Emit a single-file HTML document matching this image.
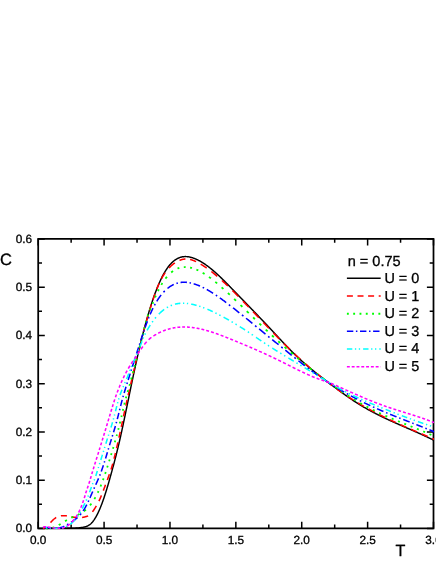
<!DOCTYPE html>
<html><head><meta charset="utf-8"><title>C vs T</title>
<style>html,body{margin:0;padding:0;background:#fff;}body{width:436px;height:564px;overflow:hidden;position:relative;font-family:"Liberation Sans",sans-serif;}</style></head>
<body>
<svg width="436" height="564" viewBox="0 0 436 564" style="position:absolute;left:0;top:0">
<rect width="436" height="564" fill="#fff"/>
<g stroke="#000" stroke-width="1.75" fill="none">
<path d="M38.2,238.9 H433.5 V528.4 H38.2 Z"/>
<path d="M38.20,528.4 v-6.6 M38.20,238.9 v6.6 M71.14,528.4 v-3.8 M71.14,238.9 v3.8 M104.08,528.4 v-6.6 M104.08,238.9 v6.6 M137.03,528.4 v-3.8 M137.03,238.9 v3.8 M169.97,528.4 v-6.6 M169.97,238.9 v6.6 M202.91,528.4 v-3.8 M202.91,238.9 v3.8 M235.85,528.4 v-6.6 M235.85,238.9 v6.6 M268.79,528.4 v-3.8 M268.79,238.9 v3.8 M301.73,528.4 v-6.6 M301.73,238.9 v6.6 M334.68,528.4 v-3.8 M334.68,238.9 v3.8 M367.62,528.4 v-6.6 M367.62,238.9 v6.6 M400.56,528.4 v-3.8 M400.56,238.9 v3.8 M433.50,528.4 v-6.6 M433.50,238.9 v6.6 M38.2,528.40 h6.6 M433.5,528.40 h-6.6 M38.2,504.27 h3.8 M433.5,504.27 h-3.8 M38.2,480.15 h6.6 M433.5,480.15 h-6.6 M38.2,456.02 h3.8 M433.5,456.02 h-3.8 M38.2,431.90 h6.6 M433.5,431.90 h-6.6 M38.2,407.77 h3.8 M433.5,407.77 h-3.8 M38.2,383.65 h6.6 M433.5,383.65 h-6.6 M38.2,359.52 h3.8 M433.5,359.52 h-3.8 M38.2,335.40 h6.6 M433.5,335.40 h-6.6 M38.2,311.27 h3.8 M433.5,311.27 h-3.8 M38.2,287.15 h6.6 M433.5,287.15 h-6.6 M38.2,263.02 h3.8 M433.5,263.02 h-3.8 M38.2,238.90 h6.6 M433.5,238.90 h-6.6" stroke-width="1.5"/>
</g>
<clipPath id="pc"><rect x="38" y="230" width="396.1" height="305"/></clipPath>
<g fill="none" stroke-linejoin="round" clip-path="url(#pc)">
<path d="M42.90,528.10 L43.30,528.10 L43.70,528.09 L44.10,528.08 L44.50,528.08 L44.90,528.07 L45.30,528.07 L45.70,528.06 L46.10,528.06 L46.50,528.06 L46.90,528.06 L47.30,528.06 L47.70,528.06 L48.10,528.07 L48.50,528.07 L48.90,528.07 L49.30,528.08 L49.70,528.08 L50.10,528.09 L50.50,528.09 L50.90,528.10 L51.30,528.11 L51.70,528.11 L52.10,528.12 L52.50,528.13 L52.90,528.14 L53.30,528.15 L53.70,528.15 L54.10,528.16 L54.50,528.17 L54.90,528.18 L55.30,528.19 L55.70,528.20 L56.10,528.21 L56.50,528.22 L56.90,528.23 L57.30,528.24 L57.70,528.25 L58.10,528.26 L58.50,528.27 L58.90,528.28 L59.30,528.29 L59.70,528.30 L60.10,528.30 L60.50,528.30 L60.90,528.30 L61.30,528.30 L61.70,528.30 L62.10,528.30 L62.50,528.30 L62.90,528.30 L63.30,528.30 L63.70,528.30 L64.10,528.30 L64.50,528.30 L64.90,528.30 L65.30,528.30 L65.70,528.30 L66.10,528.30 L66.50,528.30 L66.90,528.30 L67.30,528.30 L67.70,528.30 L68.10,528.30 L68.50,528.30 L68.90,528.30 L69.30,528.30 L69.70,528.30 L70.10,528.30 L70.50,528.30 L70.90,528.30 L71.30,528.30 L71.70,528.30 L72.10,528.28 L72.50,528.27 L72.90,528.25 L73.30,528.23 L73.70,528.21 L74.10,528.19 L74.50,528.17 L74.90,528.14 L75.30,528.12 L75.70,528.09 L76.10,528.06 L76.50,528.03 L76.90,528.00 L77.30,527.97 L77.70,527.93 L78.10,527.89 L78.50,527.86 L78.90,527.82 L79.30,527.77 L79.70,527.73 L80.10,527.68 L80.50,527.63 L80.90,527.58 L81.30,527.53 L81.70,527.48 L82.10,527.42 L82.50,527.36 L82.90,527.30 L83.30,527.23 L83.70,527.16 L84.10,527.08 L84.50,527.00 L84.90,526.90 L85.30,526.79 L85.70,526.68 L86.10,526.55 L86.50,526.41 L86.90,526.25 L87.30,526.08 L87.70,525.89 L88.10,525.69 L88.50,525.46 L88.90,525.22 L89.30,524.95 L89.70,524.67 L90.10,524.36 L90.50,524.03 L90.90,523.67 L91.30,523.28 L91.70,522.87 L92.10,522.43 L92.50,521.97 L92.90,521.48 L93.30,520.96 L93.70,520.42 L94.10,519.85 L94.50,519.25 L94.90,518.63 L95.30,517.98 L95.70,517.31 L96.10,516.61 L96.50,515.88 L96.90,515.13 L97.30,514.36 L97.70,513.56 L98.10,512.73 L98.50,511.88 L98.90,511.01 L99.30,510.11 L99.70,509.18 L100.10,508.23 L100.50,507.26 L100.90,506.26 L101.30,505.24 L101.70,504.20 L102.10,503.13 L102.50,502.04 L102.90,500.93 L103.30,499.80 L103.70,498.64 L104.10,497.47 L104.50,496.27 L104.90,495.05 L105.30,493.81 L105.70,492.54 L106.10,491.26 L106.50,489.96 L106.90,488.64 L107.30,487.31 L107.70,485.96 L108.10,484.59 L108.50,483.22 L108.90,481.83 L109.30,480.43 L109.70,479.02 L110.10,477.60 L110.50,476.17 L110.90,474.74 L111.30,473.29 L111.70,471.84 L112.10,470.38 L112.50,468.91 L112.90,467.43 L113.30,465.94 L113.70,464.44 L114.10,462.94 L114.50,461.42 L114.90,459.89 L115.30,458.35 L115.70,456.79 L116.10,455.22 L116.50,453.63 L116.90,452.03 L117.30,450.40 L117.70,448.76 L118.10,447.10 L118.50,445.42 L118.90,443.72 L119.30,442.01 L119.70,440.27 L120.10,438.51 L120.50,436.73 L120.90,434.94 L121.30,433.13 L121.70,431.30 L122.10,429.46 L122.50,427.61 L122.90,425.74 L123.30,423.86 L123.70,421.97 L124.10,420.07 L124.50,418.17 L124.90,416.25 L125.30,414.33 L125.70,412.40 L126.10,410.46 L126.50,408.52 L126.90,406.58 L127.30,404.63 L127.70,402.68 L128.10,400.73 L128.50,398.78 L128.90,396.83 L129.30,394.89 L129.70,392.94 L130.10,391.00 L130.50,389.07 L130.90,387.14 L131.30,385.21 L131.70,383.30 L132.10,381.39 L132.50,379.49 L132.90,377.60 L133.30,375.72 L133.70,373.84 L134.10,371.98 L134.50,370.13 L134.90,368.29 L135.30,366.46 L135.70,364.63 L136.10,362.82 L136.50,361.03 L136.90,359.24 L137.30,357.46 L137.70,355.70 L138.10,353.95 L138.50,352.21 L138.90,350.49 L139.30,348.77 L139.70,347.07 L140.10,345.39 L140.50,343.72 L140.90,342.06 L141.30,340.41 L141.70,338.79 L142.10,337.17 L142.50,335.57 L142.90,333.99 L143.30,332.42 L143.70,330.86 L144.10,329.33 L144.50,327.80 L144.90,326.30 L145.30,324.81 L145.70,323.33 L146.10,321.87 L146.50,320.43 L146.90,319.00 L147.30,317.59 L147.70,316.20 L148.10,314.82 L148.50,313.46 L148.90,312.11 L149.30,310.78 L149.70,309.47 L150.10,308.17 L150.50,306.89 L150.90,305.62 L151.30,304.37 L151.70,303.14 L152.10,301.93 L152.50,300.73 L152.90,299.54 L153.30,298.38 L153.70,297.23 L154.10,296.09 L154.50,294.97 L154.90,293.87 L155.30,292.79 L155.70,291.72 L156.10,290.67 L156.50,289.64 L156.90,288.62 L157.30,287.62 L157.70,286.64 L158.10,285.67 L158.50,284.72 L158.90,283.79 L159.30,282.87 L159.70,281.97 L160.10,281.09 L160.50,280.23 L160.90,279.38 L161.30,278.55 L161.70,277.73 L162.10,276.94 L162.50,276.16 L162.90,275.39 L163.30,274.65 L163.70,273.92 L164.10,273.21 L164.50,272.52 L164.90,271.84 L165.30,271.18 L165.70,270.54 L166.10,269.92 L166.50,269.31 L166.90,268.72 L167.30,268.14 L167.70,267.59 L168.10,267.04 L168.50,266.52 L168.90,266.01 L169.30,265.51 L169.70,265.03 L170.10,264.57 L170.50,264.12 L170.90,263.68 L171.30,263.26 L171.70,262.86 L172.10,262.47 L172.50,262.09 L172.90,261.73 L173.30,261.38 L173.70,261.05 L174.10,260.73 L174.50,260.42 L174.90,260.12 L175.30,259.84 L175.70,259.57 L176.10,259.32 L176.50,259.08 L176.90,258.85 L177.30,258.63 L177.70,258.42 L178.10,258.23 L178.50,258.04 L178.90,257.87 L179.30,257.71 L179.70,257.57 L180.10,257.43 L180.50,257.30 L180.90,257.19 L181.30,257.08 L181.70,256.99 L182.10,256.91 L182.50,256.83 L182.90,256.77 L183.30,256.71 L183.70,256.67 L184.10,256.64 L184.50,256.61 L184.90,256.59 L185.30,256.59 L185.70,256.59 L186.10,256.60 L186.50,256.62 L186.90,256.64 L187.30,256.68 L187.70,256.72 L188.10,256.77 L188.50,256.83 L188.90,256.90 L189.30,256.97 L189.70,257.05 L190.10,257.14 L190.50,257.23 L190.90,257.33 L191.30,257.44 L191.70,257.55 L192.10,257.67 L192.50,257.80 L192.90,257.93 L193.30,258.07 L193.70,258.21 L194.10,258.36 L194.50,258.51 L194.90,258.67 L195.30,258.83 L195.70,259.00 L196.10,259.17 L196.50,259.35 L196.90,259.54 L197.30,259.73 L197.70,259.92 L198.10,260.12 L198.50,260.32 L198.90,260.53 L199.30,260.74 L199.70,260.96 L200.10,261.18 L200.50,261.40 L200.90,261.63 L201.30,261.87 L201.70,262.11 L202.10,262.35 L202.50,262.60 L202.90,262.85 L203.30,263.10 L203.70,263.36 L204.10,263.62 L204.50,263.89 L204.90,264.16 L205.30,264.44 L205.70,264.72 L206.10,265.00 L206.50,265.29 L206.90,265.58 L207.30,265.87 L207.70,266.17 L208.10,266.47 L208.50,266.77 L208.90,267.08 L209.30,267.39 L209.70,267.70 L210.10,268.02 L210.50,268.34 L210.90,268.66 L211.30,268.99 L211.70,269.32 L212.10,269.65 L212.50,269.99 L212.90,270.32 L213.30,270.67 L213.70,271.01 L214.10,271.35 L214.50,271.70 L214.90,272.06 L215.30,272.41 L215.70,272.77 L216.10,273.12 L216.50,273.49 L216.90,273.85 L217.30,274.22 L217.70,274.58 L218.10,274.95 L218.50,275.33 L218.90,275.70 L219.30,276.08 L219.70,276.46 L220.10,276.84 L220.50,277.22 L220.90,277.60 L221.30,277.99 L221.70,278.38 L222.10,278.76 L222.50,279.16 L222.90,279.55 L223.30,279.94 L223.70,280.34 L224.10,280.73 L224.50,281.13 L224.90,281.53 L225.30,281.93 L225.70,282.33 L226.10,282.74 L226.50,283.14 L226.90,283.54 L227.30,283.95 L227.70,284.36 L228.10,284.76 L228.50,285.17 L228.90,285.58 L229.30,285.99 L229.70,286.40 L230.10,286.81 L230.50,287.22 L230.90,287.64 L231.30,288.05 L231.70,288.46 L232.10,288.88 L232.50,289.29 L232.90,289.70 L233.30,290.12 L233.70,290.53 L234.10,290.95 L234.50,291.36 L234.90,291.77 L235.30,292.19 L235.70,292.60 L236.10,293.02 L236.50,293.43 L236.90,293.84 L237.30,294.26 L237.70,294.67 L238.10,295.08 L238.50,295.50 L238.90,295.91 L239.30,296.32 L239.70,296.74 L240.10,297.15 L240.50,297.56 L240.90,297.98 L241.30,298.39 L241.70,298.80 L242.10,299.22 L242.50,299.63 L242.90,300.04 L243.30,300.45 L243.70,300.87 L244.10,301.28 L244.50,301.69 L244.90,302.11 L245.30,302.52 L245.70,302.93 L246.10,303.35 L246.50,303.76 L246.90,304.17 L247.30,304.59 L247.70,305.00 L248.10,305.41 L248.50,305.83 L248.90,306.24 L249.30,306.65 L249.70,307.07 L250.10,307.48 L250.50,307.89 L250.90,308.31 L251.30,308.72 L251.70,309.14 L252.10,309.55 L252.50,309.97 L252.90,310.38 L253.30,310.80 L253.70,311.21 L254.10,311.63 L254.50,312.04 L254.90,312.46 L255.30,312.87 L255.70,313.29 L256.10,313.71 L256.50,314.12 L256.90,314.54 L257.30,314.96 L257.70,315.37 L258.10,315.79 L258.50,316.21 L258.90,316.63 L259.30,317.05 L259.70,317.46 L260.10,317.88 L260.50,318.30 L260.90,318.72 L261.30,319.14 L261.70,319.56 L262.10,319.98 L262.50,320.40 L262.90,320.82 L263.30,321.24 L263.70,321.66 L264.10,322.09 L264.50,322.51 L264.90,322.93 L265.30,323.35 L265.70,323.78 L266.10,324.20 L266.50,324.62 L266.90,325.05 L267.30,325.47 L267.70,325.90 L268.10,326.32 L268.50,326.75 L268.90,327.18 L269.30,327.60 L269.70,328.03 L270.10,328.46 L270.50,328.89 L270.90,329.31 L271.30,329.74 L271.70,330.17 L272.10,330.60 L272.50,331.03 L272.90,331.46 L273.30,331.89 L273.70,332.32 L274.10,332.76 L274.50,333.19 L274.90,333.62 L275.30,334.05 L275.70,334.48 L276.10,334.92 L276.50,335.35 L276.90,335.78 L277.30,336.21 L277.70,336.64 L278.10,337.07 L278.50,337.51 L278.90,337.94 L279.30,338.37 L279.70,338.80 L280.10,339.23 L280.50,339.66 L280.90,340.09 L281.30,340.52 L281.70,340.94 L282.10,341.37 L282.50,341.80 L282.90,342.23 L283.30,342.65 L283.70,343.08 L284.10,343.50 L284.50,343.92 L284.90,344.35 L285.30,344.77 L285.70,345.19 L286.10,345.61 L286.50,346.03 L286.90,346.44 L287.30,346.86 L287.70,347.28 L288.10,347.69 L288.50,348.10 L288.90,348.52 L289.30,348.93 L289.70,349.33 L290.10,349.74 L290.50,350.15 L290.90,350.55 L291.30,350.96 L291.70,351.36 L292.10,351.76 L292.50,352.16 L292.90,352.55 L293.30,352.95 L293.70,353.34 L294.10,353.73 L294.50,354.12 L294.90,354.51 L295.30,354.90 L295.70,355.28 L296.10,355.67 L296.50,356.05 L296.90,356.43 L297.30,356.80 L297.70,357.18 L298.10,357.56 L298.50,357.93 L298.90,358.30 L299.30,358.67 L299.70,359.04 L300.10,359.40 L300.50,359.77 L300.90,360.13 L301.30,360.49 L301.70,360.86 L302.10,361.21 L302.50,361.57 L302.90,361.93 L303.30,362.28 L303.70,362.64 L304.10,362.99 L304.50,363.34 L304.90,363.69 L305.30,364.04 L305.70,364.39 L306.10,364.73 L306.50,365.08 L306.90,365.42 L307.30,365.76 L307.70,366.10 L308.10,366.44 L308.50,366.78 L308.90,367.12 L309.30,367.45 L309.70,367.79 L310.10,368.12 L310.50,368.46 L310.90,368.79 L311.30,369.12 L311.70,369.45 L312.10,369.78 L312.50,370.11 L312.90,370.43 L313.30,370.76 L313.70,371.08 L314.10,371.41 L314.50,371.73 L314.90,372.05 L315.30,372.38 L315.70,372.70 L316.10,373.02 L316.50,373.34 L316.90,373.65 L317.30,373.97 L317.70,374.29 L318.10,374.61 L318.50,374.92 L318.90,375.24 L319.30,375.55 L319.70,375.86 L320.10,376.18 L320.50,376.49 L320.90,376.80 L321.30,377.11 L321.70,377.42 L322.10,377.73 L322.50,378.04 L322.90,378.35 L323.30,378.66 L323.70,378.96 L324.10,379.27 L324.50,379.58 L324.90,379.88 L325.30,380.19 L325.70,380.50 L326.10,380.80 L326.50,381.11 L326.90,381.41 L327.30,381.72 L327.70,382.02 L328.10,382.32 L328.50,382.63 L328.90,382.93 L329.30,383.23 L329.70,383.54 L330.10,383.84 L330.50,384.14 L330.90,384.44 L331.30,384.74 L331.70,385.05 L332.10,385.35 L332.50,385.65 L332.90,385.95 L333.30,386.25 L333.70,386.55 L334.10,386.85 L334.50,387.15 L334.90,387.45 L335.30,387.75 L335.70,388.05 L336.10,388.35 L336.50,388.64 L336.90,388.94 L337.30,389.24 L337.70,389.53 L338.10,389.83 L338.50,390.13 L338.90,390.42 L339.30,390.72 L339.70,391.01 L340.10,391.30 L340.50,391.59 L340.90,391.89 L341.30,392.18 L341.70,392.47 L342.10,392.76 L342.50,393.05 L342.90,393.34 L343.30,393.63 L343.70,393.91 L344.10,394.20 L344.50,394.49 L344.90,394.77 L345.30,395.06 L345.70,395.34 L346.10,395.62 L346.50,395.90 L346.90,396.19 L347.30,396.47 L347.70,396.75 L348.10,397.02 L348.50,397.30 L348.90,397.58 L349.30,397.85 L349.70,398.13 L350.10,398.40 L350.50,398.68 L350.90,398.95 L351.30,399.22 L351.70,399.49 L352.10,399.76 L352.50,400.03 L352.90,400.29 L353.30,400.56 L353.70,400.82 L354.10,401.09 L354.50,401.35 L354.90,401.61 L355.30,401.87 L355.70,402.13 L356.10,402.39 L356.50,402.64 L356.90,402.90 L357.30,403.15 L357.70,403.40 L358.10,403.65 L358.50,403.90 L358.90,404.15 L359.30,404.40 L359.70,404.65 L360.10,404.89 L360.50,405.14 L360.90,405.38 L361.30,405.62 L361.70,405.86 L362.10,406.10 L362.50,406.34 L362.90,406.57 L363.30,406.81 L363.70,407.04 L364.10,407.28 L364.50,407.51 L364.90,407.74 L365.30,407.97 L365.70,408.20 L366.10,408.43 L366.50,408.65 L366.90,408.88 L367.30,409.10 L367.70,409.33 L368.10,409.55 L368.50,409.77 L368.90,409.99 L369.30,410.21 L369.70,410.43 L370.10,410.65 L370.50,410.87 L370.90,411.08 L371.30,411.30 L371.70,411.51 L372.10,411.72 L372.50,411.93 L372.90,412.15 L373.30,412.36 L373.70,412.57 L374.10,412.77 L374.50,412.98 L374.90,413.19 L375.30,413.40 L375.70,413.60 L376.10,413.81 L376.50,414.01 L376.90,414.21 L377.30,414.41 L377.70,414.62 L378.10,414.82 L378.50,415.02 L378.90,415.21 L379.30,415.41 L379.70,415.61 L380.10,415.81 L380.50,416.00 L380.90,416.20 L381.30,416.39 L381.70,416.59 L382.10,416.78 L382.50,416.98 L382.90,417.17 L383.30,417.36 L383.70,417.55 L384.10,417.74 L384.50,417.93 L384.90,418.12 L385.30,418.31 L385.70,418.50 L386.10,418.69 L386.50,418.87 L386.90,419.06 L387.30,419.25 L387.70,419.43 L388.10,419.62 L388.50,419.80 L388.90,419.99 L389.30,420.17 L389.70,420.35 L390.10,420.54 L390.50,420.72 L390.90,420.90 L391.30,421.08 L391.70,421.26 L392.10,421.44 L392.50,421.62 L392.90,421.80 L393.30,421.98 L393.70,422.16 L394.10,422.34 L394.50,422.52 L394.90,422.70 L395.30,422.88 L395.70,423.06 L396.10,423.23 L396.50,423.41 L396.90,423.59 L397.30,423.76 L397.70,423.94 L398.10,424.12 L398.50,424.29 L398.90,424.47 L399.30,424.65 L399.70,424.82 L400.10,425.00 L400.50,425.17 L400.90,425.35 L401.30,425.52 L401.70,425.70 L402.10,425.87 L402.50,426.05 L402.90,426.22 L403.30,426.39 L403.70,426.57 L404.10,426.74 L404.50,426.92 L404.90,427.09 L405.30,427.27 L405.70,427.44 L406.10,427.61 L406.50,427.79 L406.90,427.96 L407.30,428.14 L407.70,428.31 L408.10,428.48 L408.50,428.66 L408.90,428.83 L409.30,429.01 L409.70,429.18 L410.10,429.36 L410.50,429.53 L410.90,429.71 L411.30,429.88 L411.70,430.06 L412.10,430.23 L412.50,430.41 L412.90,430.58 L413.30,430.76 L413.70,430.93 L414.10,431.11 L414.50,431.29 L414.90,431.46 L415.30,431.64 L415.70,431.82 L416.10,431.99 L416.50,432.17 L416.90,432.35 L417.30,432.53 L417.70,432.70 L418.10,432.88 L418.50,433.06 L418.90,433.24 L419.30,433.42 L419.70,433.60 L420.10,433.78 L420.50,433.96 L420.90,434.14 L421.30,434.32 L421.70,434.51 L422.10,434.69 L422.50,434.87 L422.90,435.05 L423.30,435.24 L423.70,435.42 L424.10,435.61 L424.50,435.79 L424.90,435.98 L425.30,436.16 L425.70,436.35 L426.10,436.53 L426.50,436.72 L426.90,436.91 L427.30,437.10 L427.70,437.29 L428.10,437.48 L428.50,437.67 L428.90,437.86 L429.30,438.05 L429.70,438.24 L430.10,438.43 L430.50,438.63 L430.90,438.82 L431.30,439.02 L431.70,439.21 L432.10,439.41 L432.50,439.60 L432.90,439.80 L433.30,440.00 L433.70,440.20 L434.10,440.40 L434.50,440.60" stroke="#000000" stroke-width="1.45"/>
<path d="M42.90,528.20 L43.20,528.20 L43.50,528.17 L43.80,528.13 L44.10,528.07 L44.40,527.98 L44.70,527.86 L45.00,527.73 L45.30,527.57 L45.60,527.39 L45.90,527.19 L46.10,527.05 M50.50,522.64 L50.80,522.31 L51.10,521.97 L51.40,521.64 L51.70,521.31 L52.00,520.99 L52.30,520.68 L52.60,520.37 L52.90,520.07 L53.20,519.79 L53.50,519.51 L53.80,519.25 L54.10,519.00 L54.40,518.76 L54.70,518.53 L55.00,518.31 L55.30,518.10 L55.60,517.90 L55.90,517.71 L56.20,517.53 L56.25,517.50 M60.90,515.85 L61.20,515.80 L61.50,515.76 L61.80,515.73 L62.10,515.70 L62.40,515.68 L62.70,515.67 L63.00,515.66 L63.30,515.65 L63.60,515.65 L63.90,515.66 L64.20,515.67 L64.50,515.68 L64.80,515.70 L65.10,515.72 L65.40,515.74 L65.70,515.77 L66.00,515.81 L66.30,515.84 L66.60,515.88 L66.85,515.92 M71.50,516.78 L71.80,516.84 L72.10,516.90 L72.40,516.96 L72.70,517.02 L73.00,517.08 L73.30,517.13 L73.60,517.19 L73.90,517.24 L74.20,517.29 L74.50,517.34 L74.80,517.39 L75.10,517.43 L75.40,517.47 L75.70,517.51 L76.00,517.55 L76.30,517.58 L76.60,517.61 L76.90,517.63 L77.20,517.65 L77.45,517.67 M82.10,517.45 L82.40,517.40 L82.70,517.36 L83.00,517.30 L83.30,517.25 L83.60,517.19 L83.90,517.13 L84.20,517.06 L84.50,516.99 L84.80,516.92 L85.10,516.85 L85.40,516.77 L85.70,516.69 L86.00,516.60 L86.30,516.51 L86.60,516.42 L86.90,516.32 L87.20,516.20 L87.50,516.08 L87.80,515.95 L88.05,515.83 M92.45,511.85 L92.75,511.45 L93.05,511.04 L93.35,510.62 L93.65,510.19 L93.95,509.75 L94.25,509.30 L94.55,508.84 L94.85,508.38 L95.15,507.91 L95.45,507.43 L95.75,506.95 L96.05,506.46 L96.35,505.96 M98.90,501.20 L99.20,500.56 L99.50,499.91 L99.80,499.25 L100.10,498.57 L100.40,497.87 L100.70,497.17 L101.00,496.45 L101.30,495.73 L101.45,495.36 M103.30,490.65 L103.60,489.86 L103.90,489.07 L104.20,488.27 L104.50,487.47 L104.80,486.67 L105.10,485.87 L105.40,485.07 L105.50,484.80 M107.30,479.98 L107.60,479.17 L107.90,478.37 L108.20,477.56 L108.50,476.75 L108.80,475.94 L109.10,475.11 L109.40,474.28 L109.45,474.14 M111.05,469.41 L111.35,468.45 L111.65,467.47 L111.95,466.46 L112.25,465.43 L112.55,464.37 L112.75,463.65 M114.05,458.72 L114.35,457.52 L114.65,456.30 L114.95,455.07 L115.25,453.82 L115.45,452.97 M116.55,448.26 L116.85,446.95 L117.15,445.64 L117.45,444.32 L117.75,443.00 L117.90,442.34 M118.95,437.68 L119.25,436.34 L119.55,434.99 L119.85,433.62 L120.15,432.25 L120.25,431.79 M121.30,426.89 L121.60,425.47 L121.90,424.06 L122.20,422.63 L122.50,421.21 M123.50,416.46 L123.80,415.03 L124.10,413.61 L124.40,412.19 L124.70,410.78 L124.75,410.55 M125.80,405.67 L126.10,404.29 L126.40,402.93 L126.70,401.57 L127.00,400.23 L127.05,400.01 M128.15,395.21 L128.45,393.92 L128.75,392.64 L129.05,391.37 L129.35,390.09 L129.50,389.46 M130.65,384.58 L130.95,383.29 L131.25,382.00 L131.55,380.71 L131.85,379.40 L132.00,378.75 M133.10,373.92 L133.40,372.59 L133.70,371.27 L134.00,369.94 L134.30,368.61 L134.40,368.17 M135.50,363.33 L135.80,362.02 L136.10,360.71 L136.40,359.41 L136.70,358.12 L136.80,357.69 M137.95,352.83 L138.25,351.59 L138.55,350.36 L138.85,349.14 L139.15,347.94 L139.40,346.95 M140.65,342.12 L140.95,340.99 L141.25,339.87 L141.55,338.75 L141.85,337.64 L142.15,336.53 L142.20,336.35 M143.50,331.63 L143.80,330.55 L144.10,329.47 L144.40,328.40 L144.70,327.33 L145.00,326.26 L145.15,325.73 M146.50,320.98 L146.80,319.93 L147.10,318.89 L147.40,317.86 L147.70,316.82 L148.00,315.80 L148.20,315.12 M149.60,310.42 L149.90,309.43 L150.20,308.45 L150.50,307.48 L150.80,306.51 L151.10,305.55 L151.40,304.60 M152.95,299.81 L153.25,298.91 L153.55,298.02 L153.85,297.14 L154.15,296.27 L154.45,295.42 L154.75,294.57 L154.95,294.01 M156.75,289.19 L157.05,288.43 L157.35,287.68 L157.65,286.94 L157.95,286.22 L158.25,285.51 L158.55,284.81 L158.85,284.13 L159.15,283.46 L159.20,283.35 M161.55,278.59 L161.85,278.04 L162.15,277.50 L162.45,276.98 L162.75,276.46 L163.05,275.96 L163.35,275.46 L163.65,274.98 L163.95,274.51 L164.25,274.05 L164.55,273.60 L164.85,273.16 L165.15,272.73 M168.95,268.05 L169.25,267.73 L169.55,267.42 L169.85,267.12 L170.15,266.83 L170.45,266.54 L170.75,266.25 L171.05,265.98 L171.35,265.70 L171.65,265.44 L171.95,265.18 L172.25,264.92 L172.55,264.67 L172.85,264.43 L173.15,264.19 L173.45,263.95 L173.75,263.72 L174.05,263.50 L174.35,263.28 L174.65,263.07 L174.85,262.93 M179.50,260.38 L179.80,260.26 L180.10,260.14 L180.40,260.04 L180.70,259.93 L181.00,259.83 L181.30,259.74 L181.60,259.65 L181.90,259.57 L182.20,259.50 L182.50,259.43 L182.80,259.36 L183.10,259.30 L183.40,259.25 L183.70,259.20 L184.00,259.16 L184.30,259.12 L184.60,259.09 L184.90,259.06 L185.20,259.04 L185.45,259.03 M190.10,259.47 L190.40,259.54 L190.70,259.61 L191.00,259.69 L191.30,259.78 L191.60,259.87 L191.90,259.96 L192.20,260.05 L192.50,260.15 L192.80,260.26 L193.10,260.37 L193.40,260.48 L193.70,260.60 L194.00,260.72 L194.30,260.84 L194.60,260.97 L194.90,261.10 L195.20,261.23 L195.50,261.37 L195.80,261.51 L196.05,261.63 M200.70,264.17 L201.00,264.35 L201.30,264.53 L201.60,264.71 L201.90,264.90 L202.20,265.09 L202.50,265.28 L202.80,265.47 L203.10,265.66 L203.40,265.85 L203.70,266.05 L204.00,266.25 L204.30,266.45 L204.60,266.65 L204.90,266.85 L205.20,267.05 L205.50,267.26 L205.80,267.46 L206.10,267.67 L206.40,267.88 L206.65,268.06 M211.30,271.51 L211.60,271.74 L211.90,271.97 L212.20,272.21 L212.50,272.45 L212.80,272.69 L213.10,272.93 L213.40,273.17 L213.70,273.41 L214.00,273.65 L214.30,273.90 L214.60,274.14 L214.90,274.39 L215.20,274.64 L215.50,274.89 L215.80,275.14 L216.10,275.39 L216.40,275.65 L216.70,275.90 L217.00,276.15 L217.25,276.37 M221.90,280.47 L222.20,280.74 L222.50,281.01 L222.80,281.29 L223.10,281.56 L223.40,281.84 L223.70,282.12 L224.00,282.39 L224.30,282.67 L224.60,282.95 L224.90,283.23 L225.20,283.51 L225.50,283.79 L225.80,284.08 L226.10,284.36 L226.40,284.64 L226.70,284.93 L227.00,285.21 L227.30,285.50 L227.60,285.79 L227.85,286.03 M232.50,290.57 L232.80,290.87 L233.10,291.16 L233.40,291.46 L233.70,291.76 L234.00,292.06 L234.30,292.36 L234.60,292.66 L234.90,292.96 L235.20,293.27 L235.50,293.57 L235.80,293.87 L236.10,294.17 L236.40,294.48 L236.70,294.78 L237.00,295.08 L237.30,295.39 L237.60,295.69 L237.90,296.00 L238.20,296.30 L238.40,296.51 M242.95,301.17 L243.25,301.48 L243.55,301.79 L243.85,302.10 L244.15,302.41 L244.45,302.72 L244.75,303.03 L245.05,303.34 L245.35,303.66 L245.65,303.97 L245.95,304.28 L246.25,304.59 L246.55,304.90 L246.85,305.21 L247.15,305.52 L247.45,305.84 L247.75,306.15 L248.05,306.46 L248.35,306.77 L248.65,307.09 L248.70,307.14 M253.15,311.79 L253.45,312.11 L253.75,312.42 L254.05,312.73 L254.35,313.05 L254.65,313.36 L254.95,313.68 L255.25,313.99 L255.55,314.31 L255.85,314.62 L256.15,314.94 L256.45,315.25 L256.75,315.57 L257.05,315.88 L257.35,316.20 L257.65,316.51 L257.95,316.83 L258.25,317.14 L258.55,317.46 L258.80,317.72 M263.25,322.38 L263.55,322.70 L263.85,323.01 L264.15,323.33 L264.45,323.64 L264.75,323.95 L265.05,324.27 L265.35,324.58 L265.65,324.89 L265.95,325.21 L266.25,325.52 L266.55,325.83 L266.85,326.15 L267.15,326.46 L267.45,326.77 L267.75,327.09 L268.05,327.40 L268.35,327.71 L268.65,328.02 L268.95,328.34 M273.45,333.00 L273.75,333.31 L274.05,333.61 L274.35,333.92 L274.65,334.23 L274.95,334.54 L275.25,334.85 L275.55,335.16 L275.85,335.46 L276.15,335.77 L276.45,336.08 L276.75,336.38 L277.05,336.69 L277.35,337.00 L277.65,337.30 L277.95,337.61 L278.25,337.91 L278.55,338.22 L278.85,338.52 L279.15,338.83 L279.25,338.93 M283.85,343.56 L284.15,343.85 L284.45,344.15 L284.75,344.45 L285.05,344.75 L285.35,345.05 L285.65,345.34 L285.95,345.64 L286.25,345.94 L286.55,346.23 L286.85,346.53 L287.15,346.82 L287.45,347.12 L287.75,347.41 L288.05,347.71 L288.35,348.00 L288.65,348.29 L288.95,348.59 L289.25,348.88 L289.55,349.17 L289.80,349.41 M294.45,353.87 L294.75,354.15 L295.05,354.43 L295.35,354.72 L295.65,355.00 L295.95,355.28 L296.25,355.56 L296.55,355.84 L296.85,356.12 L297.15,356.40 L297.45,356.68 L297.75,356.96 L298.05,357.23 L298.35,357.51 L298.65,357.79 L298.95,358.06 L299.25,358.34 L299.55,358.62 L299.85,358.89 L300.15,359.17 L300.40,359.39 M305.05,363.57 L305.35,363.84 L305.65,364.11 L305.95,364.37 L306.25,364.63 L306.55,364.90 L306.85,365.16 L307.15,365.42 L307.45,365.69 L307.75,365.95 L308.05,366.21 L308.35,366.47 L308.65,366.73 L308.95,366.99 L309.25,367.25 L309.55,367.51 L309.85,367.77 L310.15,368.02 L310.45,368.28 L310.75,368.54 L311.00,368.75 M315.65,372.66 L315.95,372.91 L316.25,373.15 L316.55,373.40 L316.85,373.65 L317.15,373.89 L317.45,374.14 L317.75,374.39 L318.05,374.63 L318.35,374.87 L318.65,375.12 L318.95,375.36 L319.25,375.60 L319.55,375.85 L319.85,376.09 L320.15,376.33 L320.45,376.57 L320.75,376.81 L321.05,377.05 L321.35,377.29 L321.60,377.49 M326.25,381.13 L326.55,381.36 L326.85,381.59 L327.15,381.82 L327.45,382.05 L327.75,382.28 L328.05,382.50 L328.35,382.73 L328.65,382.96 L328.95,383.19 L329.25,383.41 L329.55,383.64 L329.85,383.86 L330.15,384.09 L330.45,384.31 L330.75,384.54 L331.05,384.76 L331.35,384.98 L331.65,385.20 L331.95,385.43 L332.20,385.61 M336.85,388.98 L337.15,389.20 L337.45,389.41 L337.75,389.62 L338.05,389.83 L338.35,390.05 L338.65,390.26 L338.95,390.47 L339.25,390.68 L339.55,390.89 L339.85,391.10 L340.15,391.31 L340.45,391.51 L340.75,391.72 L341.05,391.93 L341.35,392.14 L341.65,392.34 L341.95,392.55 L342.25,392.75 L342.55,392.96 L342.80,393.13 M347.45,396.24 L347.75,396.43 L348.05,396.63 L348.35,396.82 L348.65,397.02 L348.95,397.21 L349.25,397.41 L349.55,397.60 L349.85,397.79 L350.15,397.99 L350.45,398.18 L350.75,398.37 L351.05,398.56 L351.35,398.75 L351.65,398.94 L351.95,399.13 L352.25,399.32 L352.55,399.51 L352.85,399.70 L353.15,399.89 L353.40,400.04 M358.05,402.89 L358.35,403.07 L358.65,403.25 L358.95,403.43 L359.25,403.61 L359.55,403.78 L359.85,403.96 L360.15,404.14 L360.45,404.31 L360.75,404.49 L361.05,404.67 L361.35,404.84 L361.65,405.02 L361.95,405.19 L362.25,405.36 L362.55,405.54 L362.85,405.71 L363.15,405.88 L363.45,406.05 L363.75,406.23 L364.00,406.37 M368.65,408.97 L368.95,409.13 L369.25,409.30 L369.55,409.46 L369.85,409.63 L370.15,409.79 L370.45,409.95 L370.75,410.11 L371.05,410.27 L371.35,410.44 L371.65,410.60 L371.95,410.76 L372.25,410.92 L372.55,411.08 L372.85,411.24 L373.15,411.40 L373.45,411.56 L373.75,411.71 L374.05,411.87 L374.35,412.03 L374.60,412.16 M379.25,414.56 L379.55,414.71 L379.85,414.86 L380.15,415.01 L380.45,415.16 L380.75,415.31 L381.05,415.46 L381.35,415.61 L381.65,415.76 L381.95,415.91 L382.25,416.06 L382.55,416.21 L382.85,416.36 L383.15,416.51 L383.45,416.65 L383.75,416.80 L384.05,416.95 L384.35,417.10 L384.65,417.24 L384.95,417.39 L385.20,417.51 M389.85,419.75 L390.15,419.89 L390.45,420.03 L390.75,420.17 L391.05,420.31 L391.35,420.45 L391.65,420.59 L391.95,420.73 L392.25,420.88 L392.55,421.02 L392.85,421.16 L393.15,421.30 L393.45,421.43 L393.75,421.57 L394.05,421.71 L394.35,421.85 L394.65,421.99 L394.95,422.13 L395.25,422.27 L395.55,422.41 L395.80,422.52 M400.45,424.63 L400.75,424.77 L401.05,424.90 L401.35,425.04 L401.65,425.17 L401.95,425.31 L402.25,425.44 L402.55,425.57 L402.85,425.71 L403.15,425.84 L403.45,425.97 L403.75,426.11 L404.05,426.24 L404.35,426.37 L404.65,426.51 L404.95,426.64 L405.25,426.77 L405.55,426.90 L405.85,427.04 L406.15,427.17 L406.40,427.28 M411.05,429.31 L411.35,429.44 L411.65,429.57 L411.95,429.70 L412.25,429.83 L412.55,429.96 L412.85,430.09 L413.15,430.22 L413.45,430.35 L413.75,430.48 L414.05,430.61 L414.35,430.74 L414.65,430.87 L414.95,431.00 L415.25,431.13 L415.55,431.26 L415.85,431.39 L416.15,431.52 L416.45,431.65 L416.75,431.78 L417.00,431.89 M421.65,433.88 L421.95,434.01 L422.25,434.14 L422.55,434.27 L422.85,434.40 L423.15,434.53 L423.45,434.66 L423.75,434.78 L424.05,434.91 L424.35,435.04 L424.65,435.17 L424.95,435.30 L425.25,435.43 L425.55,435.56 L425.85,435.68 L426.15,435.81 L426.45,435.94 L426.75,436.07 L427.05,436.20 L427.35,436.33 L427.60,436.44 M432.25,438.44 L432.55,438.57 L432.85,438.70 L433.15,438.83 L433.45,438.96 L433.75,439.09 L434.05,439.22 L434.35,439.35 L434.50,439.41" stroke="#ff0000" stroke-width="1.55"/>
<path d="M46.15,528.30 L46.45,528.30 L46.75,528.30 L47.05,528.30 L47.35,528.30 L47.65,528.30 L47.95,528.30 L48.00,528.30 M52.45,527.78 L52.75,527.69 L53.05,527.60 L53.35,527.50 L53.65,527.40 L53.95,527.29 L54.25,527.19 L54.30,527.17 M58.75,525.06 L59.05,524.89 L59.35,524.72 L59.65,524.54 L59.95,524.37 L60.25,524.19 L60.55,524.00 L60.60,523.97 M65.05,521.18 L65.35,520.99 L65.65,520.81 L65.95,520.63 L66.25,520.44 L66.55,520.26 L66.85,520.08 L66.90,520.05 M71.35,517.72 L71.65,517.58 L71.95,517.44 L72.25,517.31 L72.55,517.17 L72.85,517.04 L73.15,516.90 L73.20,516.88 M77.65,514.89 L77.95,514.74 L78.25,514.60 L78.55,514.45 L78.85,514.30 L79.15,514.15 L79.45,513.99 L79.50,513.96 M83.95,511.20 L84.25,510.98 L84.55,510.75 L84.85,510.51 L85.15,510.27 L85.45,510.02 L85.75,509.77 L85.80,509.72 M90.00,505.39 L90.30,505.02 L90.60,504.64 L90.90,504.25 L91.20,503.86 L91.40,503.59 M94.35,499.13 L94.65,498.63 L94.95,498.11 L95.25,497.58 L95.40,497.32 M97.75,492.76 L98.05,492.13 L98.35,491.49 L98.55,491.06 M100.50,486.53 L100.80,485.79 L101.10,485.04 L101.25,484.66 M102.95,480.16 L103.25,479.34 L103.55,478.50 L103.60,478.36 M105.15,473.86 L105.45,472.96 L105.75,472.05 M107.20,467.55 L107.50,466.60 L107.75,465.80 M109.15,461.28 L109.45,460.31 L109.70,459.49 M111.05,455.04 L111.35,454.05 L111.60,453.21 M112.95,448.69 L113.25,447.67 L113.45,446.99 M114.80,442.34 L115.10,441.28 L115.30,440.58 M116.55,436.08 L116.85,434.98 L117.00,434.42 M118.25,429.67 L118.55,428.50 L118.65,428.11 M119.80,423.50 L120.10,422.27 L120.25,421.66 M121.35,417.04 L121.65,415.75 L121.70,415.54 M122.80,410.79 L123.10,409.49 L123.20,409.07 M124.25,404.63 L124.55,403.40 L124.70,402.79 M125.85,398.32 L126.15,397.20 L126.35,396.47 M127.60,392.01 L127.90,390.96 L128.10,390.26 M129.40,385.74 L129.70,384.68 L129.90,383.97 M131.15,379.42 L131.45,378.30 L131.65,377.55 M132.85,372.98 L133.15,371.83 L133.30,371.25 M134.45,366.82 L134.75,365.66 L134.90,365.09 M136.10,360.53 L136.40,359.40 L136.55,358.84 M137.80,354.15 L138.10,353.02 L138.25,352.46 M139.45,347.93 L139.75,346.78 L139.90,346.21 M141.10,341.56 L141.40,340.38 L141.55,339.79 M142.70,335.16 L143.00,333.92 L143.10,333.50 M144.20,328.89 L144.50,327.63 L144.60,327.21 M145.75,322.58 L146.05,321.43 L146.20,320.88 M147.55,316.39 L147.85,315.52 L148.15,314.69 L148.20,314.56 M150.00,310.13 L150.30,309.42 L150.60,308.71 L150.75,308.35 M152.60,303.73 L152.90,302.96 L153.20,302.20 L153.25,302.07 M155.10,297.45 L155.40,296.74 L155.70,296.03 L155.85,295.69 M157.95,291.15 L158.25,290.54 L158.55,289.95 L158.85,289.36 M161.30,284.89 L161.60,284.39 L161.90,283.89 L162.20,283.40 L162.40,283.08 M165.45,278.64 L165.75,278.25 L166.05,277.87 L166.35,277.49 L166.65,277.12 L166.95,276.76 M171.20,272.45 L171.50,272.20 L171.80,271.95 L172.10,271.72 L172.40,271.49 L172.70,271.26 L173.00,271.05 L173.05,271.01 M177.50,268.53 L177.80,268.41 L178.10,268.29 L178.40,268.18 L178.70,268.08 L179.00,267.98 L179.30,267.89 L179.35,267.87 M183.80,267.09 L184.10,267.08 L184.40,267.07 L184.70,267.06 L185.00,267.06 L185.30,267.06 L185.60,267.06 L185.65,267.07 M190.10,267.62 L190.40,267.68 L190.70,267.75 L191.00,267.82 L191.30,267.90 L191.60,267.97 L191.90,268.05 L191.95,268.07 M196.40,269.62 L196.70,269.75 L197.00,269.88 L197.30,270.01 L197.60,270.14 L197.90,270.28 L198.20,270.42 L198.25,270.45 M202.70,272.82 L203.00,273.00 L203.30,273.18 L203.60,273.36 L203.90,273.54 L204.20,273.73 L204.50,273.92 L204.55,273.95 M209.00,276.98 L209.30,277.20 L209.60,277.42 L209.90,277.64 L210.20,277.87 L210.50,278.09 L210.80,278.32 L210.85,278.36 M215.30,281.89 L215.60,282.14 L215.90,282.39 L216.20,282.64 L216.50,282.89 L216.80,283.14 L217.10,283.39 L217.15,283.44 M221.60,287.30 L221.90,287.57 L222.20,287.84 L222.50,288.11 L222.80,288.37 L223.10,288.64 L223.40,288.91 L223.45,288.96 M227.90,293.03 L228.20,293.31 L228.50,293.58 L228.80,293.86 L229.10,294.14 L229.40,294.42 L229.70,294.70 L229.75,294.75 M234.20,298.96 L234.50,299.25 L234.80,299.54 L235.10,299.82 L235.40,300.11 L235.70,300.40 L236.00,300.69 L236.05,300.74 M240.50,305.05 L240.80,305.34 L241.10,305.63 L241.40,305.92 L241.70,306.22 L242.00,306.51 L242.30,306.80 L242.35,306.85 M246.80,311.21 L247.10,311.51 L247.40,311.80 L247.70,312.09 L248.00,312.39 L248.30,312.68 L248.60,312.98 L248.65,313.03 M253.10,317.39 L253.40,317.69 L253.70,317.98 L254.00,318.27 L254.30,318.57 L254.60,318.86 L254.90,319.15 L254.95,319.20 M259.40,323.52 L259.70,323.81 L260.00,324.10 L260.30,324.39 L260.60,324.68 L260.90,324.97 L261.20,325.26 L261.25,325.30 M265.70,329.55 L266.00,329.83 L266.30,330.12 L266.60,330.40 L266.90,330.68 L267.20,330.97 L267.50,331.25 L267.55,331.30 M272.00,335.46 L272.30,335.74 L272.60,336.02 L272.90,336.29 L273.20,336.57 L273.50,336.85 L273.80,337.13 L273.85,337.17 M278.30,341.25 L278.60,341.52 L278.90,341.79 L279.20,342.06 L279.50,342.34 L279.80,342.61 L280.10,342.88 L280.15,342.92 M284.60,346.91 L284.90,347.18 L285.20,347.44 L285.50,347.71 L285.80,347.97 L286.10,348.24 L286.40,348.50 L286.45,348.55 M290.90,352.44 L291.20,352.70 L291.50,352.96 L291.80,353.22 L292.10,353.48 L292.40,353.74 L292.70,353.99 L292.75,354.04 M297.20,357.83 L297.50,358.09 L297.80,358.34 L298.10,358.59 L298.40,358.85 L298.70,359.10 L299.00,359.35 L299.05,359.39 M303.50,363.09 L303.80,363.33 L304.10,363.58 L304.40,363.82 L304.70,364.07 L305.00,364.32 L305.30,364.56 L305.35,364.60 M309.80,368.19 L310.10,368.43 L310.40,368.67 L310.70,368.91 L311.00,369.15 L311.30,369.38 L311.60,369.62 L311.65,369.66 M316.10,373.14 L316.40,373.37 L316.70,373.61 L317.00,373.84 L317.30,374.07 L317.60,374.30 L317.90,374.53 L317.95,374.57 M322.40,377.93 L322.70,378.16 L323.00,378.38 L323.30,378.60 L323.60,378.83 L323.90,379.05 L324.20,379.27 L324.25,379.31 M328.70,382.56 L329.00,382.78 L329.30,382.99 L329.60,383.21 L329.90,383.42 L330.20,383.64 L330.50,383.85 L330.55,383.89 M335.00,387.01 L335.30,387.22 L335.60,387.43 L335.90,387.64 L336.20,387.84 L336.50,388.05 L336.80,388.25 L336.85,388.29 M341.30,391.29 L341.60,391.49 L341.90,391.69 L342.20,391.89 L342.50,392.08 L342.80,392.28 L343.10,392.48 L343.15,392.51 M347.60,395.38 L347.90,395.57 L348.20,395.76 L348.50,395.95 L348.80,396.14 L349.10,396.33 L349.40,396.52 L349.45,396.55 M353.90,399.29 L354.20,399.47 L354.50,399.65 L354.80,399.83 L355.10,400.01 L355.40,400.19 L355.70,400.37 L355.75,400.40 M360.20,402.99 L360.50,403.16 L360.80,403.34 L361.10,403.51 L361.40,403.68 L361.70,403.85 L362.00,404.02 L362.05,404.04 M366.50,406.50 L366.80,406.66 L367.10,406.82 L367.40,406.98 L367.70,407.14 L368.00,407.30 L368.30,407.46 L368.35,407.49 M372.80,409.80 L373.10,409.95 L373.40,410.10 L373.70,410.25 L374.00,410.40 L374.30,410.55 L374.60,410.70 L374.65,410.73 M379.10,412.88 L379.40,413.02 L379.70,413.17 L380.00,413.31 L380.30,413.45 L380.60,413.59 L380.90,413.73 L380.95,413.75 M385.40,415.77 L385.70,415.91 L386.00,416.04 L386.30,416.17 L386.60,416.31 L386.90,416.44 L387.20,416.57 L387.25,416.59 M391.70,418.51 L392.00,418.64 L392.30,418.77 L392.60,418.89 L392.90,419.02 L393.20,419.15 L393.50,419.27 L393.55,419.29 M398.00,421.14 L398.30,421.26 L398.60,421.38 L398.90,421.51 L399.20,421.63 L399.50,421.75 L399.80,421.88 L399.85,421.90 M404.30,423.70 L404.60,423.82 L404.90,423.94 L405.20,424.06 L405.50,424.18 L405.80,424.30 L406.10,424.42 L406.15,424.44 M410.60,426.23 L410.90,426.35 L411.20,426.47 L411.50,426.60 L411.80,426.72 L412.10,426.84 L412.40,426.96 L412.45,426.98 M416.90,428.78 L417.20,428.91 L417.50,429.03 L417.80,429.15 L418.10,429.28 L418.40,429.40 L418.70,429.52 L418.75,429.54 M423.20,431.40 L423.50,431.52 L423.80,431.65 L424.10,431.78 L424.40,431.90 L424.70,432.03 L425.00,432.16 L425.05,432.18 M429.50,434.11 L429.80,434.24 L430.10,434.38 L430.40,434.51 L430.70,434.64 L431.00,434.78 L431.30,434.91 L431.35,434.93" stroke="#00ff00" stroke-width="1.8"/>
<path d="M44.85,527.49 L45.15,527.50 L45.45,527.51 L45.75,527.52 L46.05,527.54 L46.35,527.56 L46.65,527.58 L46.95,527.60 L47.25,527.62 L47.55,527.64 L47.85,527.67 L48.15,527.70 L48.45,527.72 L48.75,527.75 L49.05,527.78 L49.35,527.81 L49.65,527.84 L49.95,527.87 L50.25,527.89 L50.55,527.92 L50.85,527.95 L51.15,527.98 L51.20,527.98 M53.85,528.17 L54.15,528.19 L54.45,528.20 L54.75,528.20 L55.05,528.21 L55.30,528.21 M57.95,528.08 L58.25,528.05 L58.55,528.01 L58.85,527.96 L59.15,527.91 L59.45,527.86 L59.75,527.80 L60.05,527.73 L60.35,527.66 L60.65,527.58 L60.95,527.50 L61.25,527.41 L61.55,527.32 L61.85,527.22 L62.15,527.11 L62.45,527.00 L62.75,526.88 L63.05,526.76 L63.35,526.63 L63.65,526.50 L63.95,526.36 L64.25,526.22 L64.30,526.20 M66.95,524.80 L67.25,524.63 L67.55,524.45 L67.85,524.28 L68.15,524.10 L68.40,523.95 M71.05,522.32 L71.35,522.13 L71.65,521.94 L71.95,521.74 L72.25,521.55 L72.55,521.35 L72.85,521.15 L73.15,520.94 L73.45,520.74 L73.75,520.53 L74.05,520.31 L74.35,520.09 L74.65,519.87 L74.95,519.64 L75.25,519.41 L75.55,519.17 L75.85,518.93 L76.15,518.69 L76.45,518.43 L76.75,518.18 L77.05,517.91 L77.35,517.64 L77.40,517.59 M79.95,515.00 L80.25,514.66 L80.55,514.30 L80.85,513.94 L81.15,513.57 M83.10,510.93 L83.40,510.48 L83.70,510.02 L84.00,509.55 L84.30,509.07 L84.60,508.58 L84.90,508.08 L85.20,507.56 L85.50,507.03 L85.80,506.49 L86.10,505.94 L86.40,505.37 L86.70,504.79 L86.80,504.60 M88.10,501.92 L88.40,501.27 L88.70,500.62 L88.75,500.51 M89.95,497.82 L90.25,497.13 L90.55,496.45 L90.85,495.76 L91.15,495.07 L91.45,494.38 L91.75,493.70 L92.05,493.01 L92.35,492.33 L92.65,491.65 L92.70,491.54 M93.95,488.73 L94.25,488.06 L94.55,487.39 M95.75,484.73 L96.05,484.07 L96.35,483.41 L96.65,482.74 L96.95,482.08 L97.25,481.41 L97.55,480.73 L97.85,480.05 L98.15,479.36 L98.45,478.66 L98.55,478.43 M99.70,475.62 L100.00,474.86 L100.20,474.34 M101.25,471.51 L101.55,470.68 L101.85,469.83 L102.15,468.97 L102.45,468.10 L102.75,467.22 L103.05,466.32 L103.35,465.42 L103.40,465.27 M104.30,462.50 L104.60,461.56 L104.70,461.24 M105.55,458.50 L105.85,457.52 L106.15,456.53 L106.45,455.53 L106.75,454.53 L107.05,453.53 L107.35,452.52 L107.45,452.18 M108.25,449.50 L108.55,448.50 L108.65,448.16 M109.50,445.34 L109.80,444.35 L110.10,443.36 L110.40,442.38 L110.70,441.40 L111.00,440.43 L111.30,439.46 L111.40,439.14 M112.25,436.40 L112.55,435.43 L112.70,434.95 M113.55,432.19 L113.85,431.20 L114.15,430.21 L114.45,429.21 L114.75,428.20 L115.05,427.17 L115.35,426.14 L115.40,425.97 M116.15,423.32 L116.45,422.23 L116.55,421.87 M117.30,419.08 L117.60,417.93 L117.90,416.77 L118.20,415.59 L118.50,414.40 L118.80,413.21 L118.85,413.01 M119.55,410.20 L119.85,409.00 L119.90,408.79 M120.60,406.00 L120.90,404.82 L121.20,403.64 L121.50,402.48 L121.80,401.33 L122.10,400.20 L122.20,399.83 M122.95,397.10 L123.25,396.04 L123.35,395.68 M124.15,392.93 L124.45,391.92 L124.75,390.92 L125.05,389.93 L125.35,388.95 L125.65,387.98 L125.95,387.01 L126.05,386.69 M126.90,383.99 L127.20,383.05 L127.35,382.57 M128.20,379.90 L128.50,378.96 L128.80,378.02 L129.10,377.08 L129.40,376.13 L129.70,375.19 L130.00,374.25 L130.20,373.62 M131.10,370.78 L131.40,369.84 L131.50,369.52 M132.40,366.69 L132.70,365.74 L133.00,364.80 L133.30,363.85 L133.60,362.91 L133.90,361.96 L134.20,361.01 L134.35,360.54 M135.25,357.69 L135.55,356.75 L135.65,356.43 M136.55,353.59 L136.85,352.64 L137.15,351.70 L137.45,350.75 L137.75,349.81 L138.05,348.86 L138.35,347.92 L138.50,347.45 M139.40,344.64 L139.70,343.70 L139.80,343.39 M140.70,340.61 L141.00,339.69 L141.30,338.77 L141.60,337.86 L141.90,336.95 L142.20,336.04 L142.50,335.14 L142.80,334.25 M143.70,331.59 L144.00,330.71 L144.15,330.27 M145.15,327.41 L145.45,326.56 L145.75,325.73 L146.05,324.90 L146.35,324.07 L146.65,323.26 L146.95,322.45 L147.25,321.65 L147.40,321.25 M148.45,318.54 L148.75,317.78 L149.00,317.16 M150.15,314.38 L150.45,313.69 L150.75,313.00 L151.05,312.32 L151.35,311.65 L151.65,311.00 L151.95,310.35 L152.25,309.72 L152.55,309.09 L152.85,308.47 L153.05,308.07 M154.45,305.35 L154.75,304.80 L155.05,304.25 L155.20,303.98 M156.75,301.32 L157.05,300.84 L157.35,300.36 L157.65,299.89 L157.95,299.42 L158.25,298.97 L158.55,298.52 L158.85,298.09 L159.15,297.65 L159.45,297.23 L159.75,296.82 L160.05,296.41 L160.35,296.01 L160.65,295.62 L160.95,295.23 L161.15,294.98 M163.45,292.29 L163.75,291.97 L164.05,291.65 L164.35,291.34 L164.65,291.04 L164.80,290.89 M167.45,288.48 L167.75,288.24 L168.05,288.00 L168.35,287.77 L168.65,287.54 L168.95,287.31 L169.25,287.10 L169.55,286.89 L169.85,286.68 L170.15,286.48 L170.45,286.28 L170.75,286.09 L171.05,285.91 L171.35,285.73 L171.65,285.55 L171.95,285.38 L172.25,285.22 L172.55,285.05 L172.85,284.90 L173.15,284.75 L173.45,284.60 L173.75,284.46 L173.80,284.44 M176.45,283.40 L176.75,283.31 L177.05,283.22 L177.35,283.13 L177.65,283.05 L177.90,282.98 M180.55,282.46 L180.85,282.42 L181.15,282.39 L181.45,282.36 L181.75,282.33 L182.05,282.30 L182.35,282.28 L182.65,282.27 L182.95,282.25 L183.25,282.24 L183.55,282.24 L183.85,282.23 L184.15,282.23 L184.45,282.24 L184.75,282.24 L185.05,282.26 L185.35,282.27 L185.65,282.29 L185.95,282.31 L186.25,282.33 L186.55,282.36 L186.85,282.38 L186.90,282.39 M189.55,282.78 L189.85,282.84 L190.15,282.90 L190.45,282.96 L190.75,283.03 L191.00,283.08 M193.65,283.78 L193.95,283.87 L194.25,283.96 L194.55,284.06 L194.85,284.15 L195.15,284.25 L195.45,284.35 L195.75,284.45 L196.05,284.56 L196.35,284.66 L196.65,284.77 L196.95,284.88 L197.25,284.99 L197.55,285.11 L197.85,285.22 L198.15,285.34 L198.45,285.46 L198.75,285.58 L199.05,285.71 L199.35,285.83 L199.65,285.96 L199.95,286.09 L200.00,286.11 M202.65,287.33 L202.95,287.47 L203.25,287.62 L203.55,287.77 L203.85,287.92 L204.10,288.05 M206.75,289.46 L207.05,289.62 L207.35,289.79 L207.65,289.96 L207.95,290.13 L208.25,290.30 L208.55,290.48 L208.85,290.65 L209.15,290.83 L209.45,291.01 L209.75,291.19 L210.05,291.37 L210.35,291.55 L210.65,291.73 L210.95,291.92 L211.25,292.10 L211.55,292.29 L211.85,292.48 L212.15,292.66 L212.45,292.85 L212.75,293.05 L213.05,293.24 L213.10,293.27 M215.75,295.02 L216.05,295.22 L216.35,295.43 L216.65,295.63 L216.95,295.84 L217.20,296.01 M219.85,297.87 L220.15,298.09 L220.45,298.30 L220.75,298.52 L221.05,298.73 L221.35,298.95 L221.65,299.17 L221.95,299.39 L222.25,299.61 L222.55,299.83 L222.85,300.05 L223.15,300.27 L223.45,300.50 L223.75,300.72 L224.05,300.94 L224.35,301.17 L224.65,301.39 L224.95,301.62 L225.25,301.84 L225.55,302.07 L225.85,302.29 L226.15,302.52 L226.20,302.56 M228.85,304.58 L229.15,304.82 L229.45,305.05 L229.75,305.28 L230.05,305.51 L230.30,305.70 M232.95,307.77 L233.25,308.00 L233.55,308.24 L233.85,308.48 L234.15,308.71 L234.45,308.95 L234.75,309.18 L235.05,309.42 L235.35,309.66 L235.65,309.90 L235.95,310.13 L236.25,310.37 L236.55,310.61 L236.85,310.85 L237.15,311.09 L237.45,311.33 L237.75,311.56 L238.05,311.80 L238.35,312.04 L238.65,312.28 L238.95,312.52 L239.25,312.76 L239.30,312.80 M241.95,314.93 L242.25,315.18 L242.55,315.42 L242.85,315.66 L243.15,315.90 L243.40,316.11 M246.05,318.25 L246.35,318.50 L246.65,318.74 L246.95,318.99 L247.25,319.23 L247.55,319.48 L247.85,319.72 L248.15,319.97 L248.45,320.21 L248.75,320.45 L249.05,320.70 L249.35,320.94 L249.65,321.19 L249.95,321.43 L250.25,321.68 L250.55,321.93 L250.85,322.17 L251.15,322.42 L251.45,322.66 L251.75,322.91 L252.05,323.15 L252.35,323.40 L252.40,323.44 M255.05,325.61 L255.35,325.86 L255.65,326.10 L255.95,326.35 L256.25,326.59 L256.50,326.80 M259.15,328.97 L259.45,329.21 L259.75,329.46 L260.05,329.71 L260.35,329.95 L260.65,330.20 L260.95,330.44 L261.25,330.69 L261.55,330.93 L261.85,331.18 L262.15,331.42 L262.45,331.67 L262.75,331.91 L263.05,332.16 L263.35,332.40 L263.65,332.65 L263.95,332.89 L264.25,333.13 L264.55,333.38 L264.85,333.62 L265.15,333.87 L265.45,334.11 L265.50,334.15 M268.15,336.30 L268.45,336.54 L268.75,336.79 L269.05,337.03 L269.35,337.27 L269.60,337.47 M272.25,339.61 L272.55,339.86 L272.85,340.10 L273.15,340.34 L273.45,340.58 L273.75,340.82 L274.05,341.07 L274.35,341.31 L274.65,341.55 L274.95,341.79 L275.25,342.03 L275.55,342.28 L275.85,342.52 L276.15,342.76 L276.45,343.00 L276.75,343.24 L277.05,343.49 L277.35,343.73 L277.65,343.97 L277.95,344.21 L278.25,344.45 L278.55,344.69 L278.60,344.73 M281.25,346.87 L281.55,347.11 L281.85,347.36 L282.15,347.60 L282.45,347.84 L282.70,348.04 M285.35,350.19 L285.65,350.43 L285.95,350.67 L286.25,350.92 L286.55,351.16 L286.85,351.40 L287.15,351.65 L287.45,351.89 L287.75,352.13 L288.05,352.38 L288.35,352.62 L288.65,352.86 L288.95,353.11 L289.25,353.35 L289.55,353.59 L289.85,353.84 L290.15,354.08 L290.45,354.32 L290.75,354.56 L291.05,354.81 L291.35,355.05 L291.65,355.29 L291.70,355.33 M294.35,357.47 L294.65,357.72 L294.95,357.96 L295.25,358.20 L295.55,358.44 L295.80,358.64 M298.45,360.76 L298.75,361.00 L299.05,361.24 L299.35,361.48 L299.65,361.71 L299.95,361.95 L300.25,362.19 L300.55,362.43 L300.85,362.66 L301.15,362.90 L301.45,363.14 L301.75,363.37 L302.05,363.61 L302.35,363.84 L302.65,364.08 L302.95,364.31 L303.25,364.54 L303.55,364.78 L303.85,365.01 L304.15,365.24 L304.45,365.48 L304.75,365.71 L304.80,365.75 M307.45,367.77 L307.75,368.00 L308.05,368.23 L308.35,368.45 L308.65,368.68 L308.90,368.87 M311.55,370.84 L311.85,371.06 L312.15,371.28 L312.45,371.50 L312.75,371.71 L313.05,371.93 L313.35,372.15 L313.65,372.37 L313.95,372.59 L314.25,372.80 L314.55,373.02 L314.85,373.23 L315.15,373.45 L315.45,373.66 L315.75,373.88 L316.05,374.09 L316.35,374.30 L316.65,374.52 L316.95,374.73 L317.25,374.94 L317.55,375.15 L317.85,375.36 L317.90,375.40 M320.55,377.24 L320.85,377.44 L321.15,377.65 L321.45,377.85 L321.75,378.06 L322.00,378.23 M324.65,380.01 L324.95,380.21 L325.25,380.41 L325.55,380.61 L325.85,380.81 L326.15,381.01 L326.45,381.20 L326.75,381.40 L327.05,381.60 L327.35,381.79 L327.65,381.99 L327.95,382.18 L328.25,382.38 L328.55,382.57 L328.85,382.77 L329.15,382.96 L329.45,383.15 L329.75,383.35 L330.05,383.54 L330.35,383.73 L330.65,383.92 L330.95,384.11 L331.00,384.14 M333.65,385.81 L333.95,385.99 L334.25,386.18 L334.55,386.37 L334.85,386.55 L335.10,386.70 M337.75,388.32 L338.05,388.50 L338.35,388.68 L338.65,388.86 L338.95,389.04 L339.25,389.22 L339.55,389.39 L339.85,389.57 L340.15,389.75 L340.45,389.93 L340.75,390.10 L341.05,390.28 L341.35,390.46 L341.65,390.63 L341.95,390.81 L342.25,390.98 L342.55,391.16 L342.85,391.33 L343.15,391.50 L343.45,391.68 L343.75,391.85 L344.05,392.02 L344.10,392.05 M346.75,393.56 L347.05,393.72 L347.35,393.89 L347.65,394.06 L347.95,394.23 L348.20,394.37 M350.85,395.82 L351.15,395.99 L351.45,396.15 L351.75,396.31 L352.05,396.47 L352.35,396.64 L352.65,396.80 L352.95,396.96 L353.25,397.12 L353.55,397.28 L353.85,397.44 L354.15,397.60 L354.45,397.76 L354.75,397.91 L355.05,398.07 L355.35,398.23 L355.65,398.39 L355.95,398.55 L356.25,398.70 L356.55,398.86 L356.85,399.01 L357.15,399.17 L357.20,399.20 M359.85,400.55 L360.15,400.71 L360.45,400.86 L360.75,401.01 L361.05,401.16 L361.30,401.29 M363.95,402.60 L364.25,402.75 L364.55,402.90 L364.85,403.04 L365.15,403.19 L365.45,403.33 L365.75,403.48 L366.05,403.63 L366.35,403.77 L366.65,403.92 L366.95,404.06 L367.25,404.20 L367.55,404.35 L367.85,404.49 L368.15,404.63 L368.45,404.78 L368.75,404.92 L369.05,405.06 L369.35,405.20 L369.65,405.34 L369.95,405.48 L370.25,405.62 L370.30,405.65 M372.95,406.87 L373.25,407.01 L373.55,407.15 L373.85,407.28 L374.15,407.42 L374.40,407.53 M377.05,408.72 L377.35,408.86 L377.65,408.99 L377.95,409.12 L378.25,409.25 L378.55,409.39 L378.85,409.52 L379.15,409.65 L379.45,409.78 L379.75,409.91 L380.05,410.04 L380.35,410.17 L380.65,410.30 L380.95,410.43 L381.25,410.56 L381.55,410.69 L381.85,410.82 L382.15,410.95 L382.45,411.08 L382.75,411.20 L383.05,411.33 L383.35,411.46 L383.40,411.48 M386.05,412.60 L386.35,412.72 L386.65,412.85 L386.95,412.97 L387.25,413.10 L387.50,413.20 M390.15,414.29 L390.45,414.41 L390.75,414.54 L391.05,414.66 L391.35,414.78 L391.65,414.90 L391.95,415.02 L392.25,415.15 L392.55,415.27 L392.85,415.39 L393.15,415.51 L393.45,415.63 L393.75,415.75 L394.05,415.87 L394.35,415.99 L394.65,416.11 L394.95,416.23 L395.25,416.35 L395.55,416.47 L395.85,416.59 L396.15,416.71 L396.45,416.83 L396.50,416.85 M399.15,417.90 L399.45,418.02 L399.75,418.14 L400.05,418.26 L400.35,418.38 L400.60,418.48 M403.25,419.51 L403.55,419.63 L403.85,419.75 L404.15,419.87 L404.45,419.98 L404.75,420.10 L405.05,420.22 L405.35,420.34 L405.65,420.45 L405.95,420.57 L406.25,420.69 L406.55,420.80 L406.85,420.92 L407.15,421.04 L407.45,421.15 L407.75,421.27 L408.05,421.39 L408.35,421.50 L408.65,421.62 L408.95,421.74 L409.25,421.85 L409.55,421.97 L409.60,421.99 M412.25,423.02 L412.55,423.14 L412.85,423.26 L413.15,423.37 L413.45,423.49 L413.70,423.59 M416.35,424.62 L416.65,424.74 L416.95,424.86 L417.25,424.97 L417.55,425.09 L417.85,425.21 L418.15,425.33 L418.45,425.44 L418.75,425.56 L419.05,425.68 L419.35,425.80 L419.65,425.92 L419.95,426.03 L420.25,426.15 L420.55,426.27 L420.85,426.39 L421.15,426.51 L421.45,426.63 L421.75,426.74 L422.05,426.86 L422.35,426.98 L422.65,427.10 L422.70,427.12 M425.35,428.18 L425.65,428.30 L425.95,428.42 L426.25,428.54 L426.55,428.66 L426.80,428.76 M429.45,429.84 L429.75,429.96 L430.05,430.08 L430.35,430.21 L430.65,430.33 L430.95,430.45 L431.25,430.57 L431.55,430.70 L431.85,430.82 L432.15,430.95 L432.45,431.07 L432.75,431.20 L433.05,431.32 L433.35,431.44 L433.65,431.57 L433.95,431.70 L434.25,431.82 L434.50,431.93" stroke="#0000ff" stroke-width="1.55"/>
<path d="M42.90,527.71 L43.10,527.71 M45.75,527.71 L46.05,527.72 L46.35,527.74 L46.65,527.75 L46.95,527.76 L47.00,527.77 M49.65,527.94 L49.95,527.96 L50.25,527.98 L50.55,528.01 L50.85,528.03 L50.90,528.03 M53.95,528.23 L54.25,528.24 L54.55,528.25 L54.85,528.26 L55.15,528.27 L55.45,528.28 L55.75,528.29 L56.05,528.29 L56.35,528.29 L56.65,528.29 L56.95,528.29 L57.25,528.28 L57.55,528.28 L57.85,528.27 L58.15,528.25 L58.45,528.24 L58.75,528.22 L59.05,528.20 L59.30,528.18 M61.95,527.81 L62.25,527.75 L62.55,527.68 L62.85,527.61 L63.15,527.54 L63.20,527.52 M65.85,526.65 L66.15,526.52 L66.45,526.39 L66.75,526.25 L67.05,526.11 L67.10,526.09 M70.15,524.26 L70.45,524.04 L70.75,523.81 L71.05,523.58 L71.35,523.34 L71.65,523.09 L71.95,522.84 L72.25,522.57 L72.55,522.30 L72.85,522.02 L73.15,521.74 L73.45,521.44 L73.75,521.14 L74.05,520.82 L74.35,520.50 L74.65,520.17 L74.95,519.83 L75.25,519.49 L75.30,519.43 M77.40,516.73 L77.70,516.30 L78.00,515.87 L78.25,515.50 M79.95,512.81 L80.25,512.30 L80.55,511.78 L80.65,511.61 M82.30,508.56 L82.60,507.98 L82.90,507.39 L83.20,506.79 L83.50,506.19 L83.80,505.58 L84.10,504.96 L84.40,504.34 L84.70,503.71 L84.90,503.29 M86.15,500.59 L86.45,499.92 L86.70,499.36 M87.85,496.66 L88.15,495.93 L88.35,495.43 M89.55,492.30 L89.85,491.48 L90.15,490.66 L90.45,489.82 L90.75,488.99 L91.05,488.16 L91.35,487.33 L91.45,487.05 M92.50,484.26 L92.80,483.51 L92.95,483.14 M94.15,480.38 L94.45,479.69 L94.65,479.21 M95.80,476.05 L96.10,475.08 L96.40,474.09 L96.70,473.08 L97.00,472.09 L97.30,471.10 L97.35,470.94 M98.25,468.06 L98.55,467.11 L98.60,466.95 M99.45,464.27 L99.75,463.31 L99.85,463.00 M100.80,459.97 L101.10,459.00 L101.40,458.04 L101.70,457.07 L102.00,456.11 L102.30,455.14 L102.45,454.65 M103.30,451.90 L103.60,450.93 L103.65,450.77 M104.50,448.02 L104.80,447.05 L104.85,446.88 M105.85,443.65 L106.15,442.69 L106.45,441.73 L106.75,440.77 L107.05,439.82 L107.35,438.87 L107.50,438.40 M108.35,435.73 L108.65,434.80 L108.70,434.64 M109.60,431.83 L109.90,430.89 L109.95,430.73 M110.95,427.56 L111.25,426.59 L111.55,425.60 L111.85,424.61 L112.15,423.61 L112.45,422.59 L112.55,422.24 M113.35,419.42 L113.65,418.33 M114.40,415.51 L114.65,414.55 M115.50,411.21 L115.80,410.02 L116.10,408.83 L116.40,407.64 L116.70,406.46 L116.80,406.07 M117.50,403.39 L117.80,402.27 L117.85,402.09 M118.60,399.46 L118.90,398.46 L118.95,398.30 M120.00,395.08 L120.30,394.22 L120.60,393.37 L120.90,392.55 L121.20,391.75 L121.50,390.96 L121.80,390.20 L121.95,389.82 M123.05,387.14 L123.35,386.44 L123.55,385.97 M124.75,383.22 L125.05,382.54 L125.25,382.08 M126.60,378.96 L126.90,378.24 L127.20,377.52 L127.50,376.79 L127.80,376.04 L128.10,375.29 L128.40,374.53 L128.70,373.77 L128.75,373.64 M129.80,370.94 L130.10,370.16 L130.25,369.78 M131.35,366.98 L131.65,366.23 L131.80,365.86 M133.10,362.75 L133.40,362.07 L133.70,361.39 L134.00,360.72 L134.30,360.06 L134.60,359.40 L134.90,358.75 L135.20,358.09 L135.50,357.43 M136.70,354.75 L137.00,354.06 L137.20,353.60 M138.35,350.79 L138.65,350.02 L138.80,349.63 M140.00,346.46 L140.30,345.66 L140.60,344.86 L140.90,344.06 L141.20,343.26 L141.50,342.47 L141.80,341.69 L141.95,341.30 M143.05,338.55 L143.35,337.84 L143.55,337.38 M144.80,334.67 L145.10,334.06 L145.40,333.46 M147.05,330.39 L147.35,329.86 L147.65,329.34 L147.95,328.82 L148.25,328.31 L148.55,327.81 L148.85,327.31 L149.15,326.82 L149.45,326.34 L149.75,325.86 L150.05,325.39 L150.30,325.00 M152.10,322.32 L152.40,321.90 L152.70,321.48 L152.95,321.14 M155.00,318.46 L155.30,318.09 L155.60,317.72 L155.90,317.37 L156.00,317.25 M158.80,314.17 L159.10,313.87 L159.40,313.57 L159.70,313.27 L160.00,312.99 L160.30,312.70 L160.60,312.42 L160.90,312.15 L161.20,311.88 L161.50,311.62 L161.80,311.36 L162.10,311.10 L162.40,310.85 L162.70,310.61 L163.00,310.37 L163.30,310.13 L163.60,309.90 L163.90,309.67 L164.15,309.49 M166.80,307.71 L167.10,307.53 L167.40,307.35 L167.70,307.18 L168.00,307.02 L168.05,306.99 M170.70,305.69 L171.00,305.56 L171.30,305.43 L171.60,305.31 L171.90,305.20 L171.95,305.18 M175.00,304.20 L175.30,304.12 L175.60,304.05 L175.90,303.98 L176.20,303.91 L176.50,303.85 L176.80,303.79 L177.10,303.73 L177.40,303.68 L177.70,303.63 L178.00,303.58 L178.30,303.53 L178.60,303.49 L178.90,303.45 L179.20,303.42 L179.50,303.39 L179.80,303.36 L180.10,303.33 L180.35,303.31 M183.00,303.21 L183.30,303.21 L183.60,303.22 L183.90,303.23 L184.20,303.24 L184.25,303.24 M186.90,303.43 L187.20,303.46 L187.50,303.49 L187.80,303.53 L188.10,303.57 L188.15,303.58 M191.20,304.08 L191.50,304.14 L191.80,304.21 L192.10,304.27 L192.40,304.33 L192.70,304.40 L193.00,304.47 L193.30,304.54 L193.60,304.61 L193.90,304.68 L194.20,304.76 L194.50,304.83 L194.80,304.91 L195.10,304.99 L195.40,305.07 L195.70,305.15 L196.00,305.23 L196.30,305.31 L196.55,305.39 M199.20,306.19 L199.50,306.28 L199.80,306.38 L200.10,306.48 L200.40,306.58 L200.45,306.60 M203.10,307.54 L203.40,307.65 L203.70,307.76 L204.00,307.87 L204.30,307.99 L204.35,308.01 M207.40,309.24 L207.70,309.36 L208.00,309.49 L208.30,309.62 L208.60,309.75 L208.90,309.88 L209.20,310.01 L209.50,310.14 L209.80,310.27 L210.10,310.41 L210.40,310.54 L210.70,310.68 L211.00,310.81 L211.30,310.95 L211.60,311.09 L211.90,311.22 L212.20,311.36 L212.50,311.50 L212.75,311.62 M215.40,312.90 L215.70,313.05 L216.00,313.20 L216.30,313.35 L216.60,313.50 L216.65,313.52 M219.30,314.88 L219.60,315.04 L219.90,315.20 L220.20,315.35 L220.50,315.51 L220.55,315.54 M223.60,317.18 L223.90,317.35 L224.20,317.51 L224.50,317.68 L224.80,317.84 L225.10,318.01 L225.40,318.18 L225.70,318.34 L226.00,318.51 L226.30,318.68 L226.60,318.85 L226.90,319.01 L227.20,319.18 L227.50,319.35 L227.80,319.52 L228.10,319.69 L228.40,319.86 L228.70,320.03 L228.95,320.18 M231.60,321.70 L231.90,321.87 L232.20,322.05 L232.50,322.22 L232.80,322.40 L232.85,322.43 M235.50,324.00 L235.80,324.18 L236.10,324.36 L236.40,324.54 L236.70,324.72 L236.75,324.75 M239.80,326.62 L240.10,326.80 L240.40,326.99 L240.70,327.18 L241.00,327.36 L241.30,327.55 L241.60,327.74 L241.90,327.93 L242.20,328.12 L242.50,328.31 L242.80,328.50 L243.10,328.69 L243.40,328.88 L243.70,329.08 L244.00,329.27 L244.30,329.46 L244.60,329.66 L244.90,329.85 L245.15,330.01 M247.80,331.76 L248.10,331.95 L248.40,332.15 L248.70,332.35 L249.00,332.55 L249.05,332.59 M251.70,334.37 L252.00,334.57 L252.30,334.78 L252.60,334.98 L252.90,335.18 L252.95,335.22 M256.00,337.29 L256.30,337.49 L256.60,337.70 L256.90,337.90 L257.20,338.11 L257.50,338.31 L257.80,338.51 L258.10,338.72 L258.40,338.92 L258.70,339.13 L259.00,339.33 L259.30,339.53 L259.60,339.74 L259.90,339.94 L260.20,340.14 L260.50,340.35 L260.80,340.55 L261.10,340.75 L261.35,340.92 M264.00,342.70 L264.30,342.90 L264.60,343.10 L264.90,343.29 L265.20,343.49 L265.25,343.53 M267.90,345.26 L268.20,345.46 L268.50,345.65 L268.80,345.85 L269.10,346.04 L269.15,346.07 M272.20,348.03 L272.50,348.22 L272.80,348.41 L273.10,348.60 L273.40,348.79 L273.70,348.98 L274.00,349.17 L274.30,349.36 L274.60,349.55 L274.90,349.73 L275.20,349.92 L275.50,350.11 L275.80,350.30 L276.10,350.49 L276.40,350.67 L276.70,350.86 L277.00,351.05 L277.30,351.23 L277.55,351.39 M280.20,353.03 L280.50,353.21 L280.80,353.39 L281.10,353.58 L281.40,353.76 L281.45,353.79 M284.10,355.41 L284.40,355.59 L284.70,355.77 L285.00,355.96 L285.30,356.14 L285.35,356.17 M288.40,358.01 L288.70,358.19 L289.00,358.37 L289.30,358.55 L289.60,358.73 L289.90,358.91 L290.20,359.09 L290.50,359.27 L290.80,359.45 L291.10,359.63 L291.40,359.81 L291.70,359.99 L292.00,360.17 L292.30,360.35 L292.60,360.53 L292.90,360.71 L293.20,360.89 L293.50,361.07 L293.75,361.22 M296.40,362.80 L296.70,362.98 L297.00,363.16 L297.30,363.34 L297.60,363.52 L297.65,363.55 M300.30,365.13 L300.60,365.31 L300.90,365.49 L301.20,365.67 L301.50,365.85 L301.55,365.88 M304.60,367.72 L304.90,367.90 L305.20,368.08 L305.50,368.26 L305.80,368.44 L306.10,368.62 L306.40,368.80 L306.70,368.98 L307.00,369.16 L307.30,369.34 L307.60,369.53 L307.90,369.71 L308.20,369.89 L308.50,370.07 L308.80,370.25 L309.10,370.44 L309.40,370.62 L309.70,370.80 L309.95,370.95 M312.60,372.57 L312.90,372.75 L313.20,372.94 L313.50,373.12 L313.80,373.30 L313.85,373.33 M316.50,374.95 L316.80,375.14 L317.10,375.32 L317.40,375.50 L317.70,375.68 L317.75,375.72 M320.80,377.57 L321.10,377.76 L321.40,377.94 L321.70,378.12 L322.00,378.30 L322.30,378.48 L322.60,378.66 L322.90,378.85 L323.20,379.03 L323.50,379.21 L323.80,379.39 L324.10,379.57 L324.40,379.75 L324.70,379.93 L325.00,380.11 L325.30,380.29 L325.60,380.47 L325.90,380.65 L326.15,380.80 M328.80,382.38 L329.10,382.55 L329.40,382.73 L329.70,382.91 L330.00,383.08 L330.05,383.11 M332.70,384.66 L333.00,384.83 L333.30,385.01 L333.60,385.18 L333.90,385.35 L333.95,385.38 M337.00,387.11 L337.30,387.28 L337.60,387.45 L337.90,387.61 L338.20,387.78 L338.50,387.95 L338.80,388.11 L339.10,388.28 L339.40,388.44 L339.70,388.61 L340.00,388.77 L340.30,388.94 L340.60,389.10 L340.90,389.26 L341.20,389.43 L341.50,389.59 L341.80,389.75 L342.10,389.91 L342.35,390.04 M345.00,391.44 L345.30,391.59 L345.60,391.75 L345.90,391.90 L346.20,392.06 L346.25,392.08 M348.90,393.42 L349.20,393.57 L349.50,393.72 L349.80,393.87 L350.10,394.02 L350.15,394.04 M353.20,395.52 L353.50,395.66 L353.80,395.80 L354.10,395.94 L354.40,396.09 L354.70,396.23 L355.00,396.37 L355.30,396.51 L355.60,396.65 L355.90,396.79 L356.20,396.93 L356.50,397.07 L356.80,397.21 L357.10,397.34 L357.40,397.48 L357.70,397.62 L358.00,397.76 L358.30,397.89 L358.55,398.01 M361.20,399.20 L361.50,399.33 L361.80,399.47 L362.10,399.60 L362.40,399.73 L362.45,399.75 M365.10,400.91 L365.40,401.04 L365.70,401.17 L366.00,401.30 L366.30,401.43 L366.35,401.45 M369.40,402.75 L369.70,402.88 L370.00,403.00 L370.30,403.13 L370.60,403.26 L370.90,403.38 L371.20,403.51 L371.50,403.63 L371.80,403.76 L372.10,403.89 L372.40,404.01 L372.70,404.14 L373.00,404.26 L373.30,404.38 L373.60,404.51 L373.90,404.63 L374.20,404.76 L374.50,404.88 L374.75,404.99 M377.40,406.08 L377.70,406.20 L378.00,406.32 L378.30,406.44 L378.60,406.57 L378.65,406.59 M381.30,407.66 L381.60,407.78 L381.90,407.91 L382.20,408.03 L382.50,408.15 L382.55,408.17 M385.60,409.39 L385.90,409.51 L386.20,409.63 L386.50,409.75 L386.80,409.87 L387.10,409.99 L387.40,410.11 L387.70,410.23 L388.00,410.35 L388.30,410.46 L388.60,410.58 L388.90,410.70 L389.20,410.82 L389.50,410.94 L389.80,411.06 L390.10,411.17 L390.40,411.29 L390.70,411.41 L390.95,411.51 M393.60,412.54 L393.90,412.66 L394.20,412.78 L394.50,412.89 L394.80,413.01 L394.85,413.03 M397.50,414.05 L397.80,414.16 L398.10,414.28 L398.40,414.39 L398.70,414.51 L398.75,414.52 M401.80,415.68 L402.10,415.79 L402.40,415.91 L402.70,416.02 L403.00,416.13 L403.30,416.24 L403.60,416.36 L403.90,416.47 L404.20,416.58 L404.50,416.69 L404.80,416.81 L405.10,416.92 L405.40,417.03 L405.70,417.14 L406.00,417.25 L406.30,417.36 L406.60,417.47 L406.90,417.58 L407.15,417.68 M409.80,418.65 L410.10,418.76 L410.40,418.87 L410.70,418.98 L411.00,419.09 L411.05,419.11 M413.70,420.06 L414.00,420.17 L414.30,420.28 L414.60,420.39 L414.90,420.49 L414.95,420.51 M418.00,421.59 L418.30,421.70 L418.60,421.80 L418.90,421.91 L419.20,422.01 L419.50,422.12 L419.80,422.23 L420.10,422.33 L420.40,422.43 L420.70,422.54 L421.00,422.64 L421.30,422.75 L421.60,422.85 L421.90,422.96 L422.20,423.06 L422.50,423.16 L422.80,423.27 L423.10,423.37 L423.35,423.46 M426.00,424.36 L426.30,424.46 L426.60,424.57 L426.90,424.67 L427.20,424.77 L427.25,424.79 M429.90,425.68 L430.20,425.78 L430.50,425.88 L430.80,425.97 L431.10,426.07 L431.15,426.09 M434.20,427.09 L434.50,427.19" stroke="#00ffff" stroke-width="1.55"/>
<path d="M42.90,526.98 L43.20,526.95 L43.50,526.93 L43.80,526.91 L44.10,526.89 L44.40,526.88 L44.70,526.88 L45.00,526.88 L45.30,526.88 L45.60,526.89 L45.80,526.89 M47.75,527.04 L48.05,527.07 L48.35,527.11 L48.65,527.15 L48.95,527.19 L49.25,527.23 L49.55,527.27 L49.85,527.32 L50.15,527.37 L50.45,527.41 L50.60,527.44 M52.55,527.76 L52.85,527.81 L53.15,527.85 L53.45,527.90 L53.75,527.95 L54.05,527.99 L54.35,528.04 L54.65,528.08 L54.95,528.12 L55.25,528.16 L55.40,528.18 M57.35,528.30 L57.65,528.30 L57.95,528.30 L58.25,528.30 L58.55,528.30 L58.85,528.30 L59.15,528.30 L59.45,528.30 L59.75,528.30 L60.05,528.30 L60.20,528.30 M62.15,528.09 L62.45,528.03 L62.75,527.96 L63.05,527.88 L63.35,527.80 L63.65,527.70 L63.95,527.61 L64.25,527.50 L64.55,527.39 L64.85,527.27 L65.00,527.20 M66.95,526.18 L67.25,525.99 L67.55,525.79 L67.85,525.58 L68.15,525.36 L68.45,525.13 L68.75,524.89 L69.05,524.64 L69.35,524.39 L69.65,524.13 L69.80,523.99 M71.70,522.15 L72.00,521.84 L72.30,521.53 L72.60,521.20 L72.90,520.88 L73.20,520.54 L73.50,520.20 L73.80,519.85 L74.10,519.49 L74.25,519.31 M75.75,517.31 L76.05,516.87 L76.35,516.41 L76.65,515.94 L76.95,515.46 L77.25,514.96 L77.50,514.53 M78.60,512.50 L78.90,511.91 L79.20,511.30 L79.50,510.67 L79.80,510.02 L79.95,509.69 M80.80,507.74 L81.10,507.01 L81.40,506.26 L81.70,505.50 L81.90,504.97 M82.65,502.93 L82.95,502.08 L83.25,501.21 L83.55,500.31 L83.60,500.16 M84.25,498.14 L84.55,497.17 L84.85,496.18 L85.10,495.33 M85.70,493.32 L86.00,492.35 L86.30,491.41 L86.60,490.50 M87.30,488.42 L87.60,487.55 L87.90,486.68 L88.20,485.80 M88.90,483.72 L89.20,482.80 L89.50,481.85 L89.80,480.88 M90.40,478.85 L90.70,477.81 L91.00,476.78 L91.20,476.10 M91.80,474.07 L92.10,473.06 L92.40,472.06 L92.60,471.40 M93.25,469.26 L93.55,468.28 L93.85,467.30 L94.10,466.49 M94.70,464.56 L95.00,463.59 L95.30,462.63 L95.60,461.67 M96.20,459.76 L96.50,458.80 L96.80,457.85 L97.10,456.89 M97.75,454.82 L98.05,453.86 L98.35,452.90 L98.60,452.10 M99.25,450.00 L99.55,449.04 L99.85,448.07 L100.05,447.42 M100.70,445.31 L101.00,444.34 L101.30,443.36 L101.55,442.55 M102.20,440.43 L102.50,439.45 L102.80,438.47 L103.00,437.81 M103.65,435.68 L103.95,434.70 L104.25,433.72 L104.50,432.89 M105.10,430.92 L105.40,429.94 L105.70,428.95 L105.95,428.13 M106.55,426.15 L106.85,425.16 L107.15,424.17 L107.40,423.34 M108.00,421.35 L108.30,420.35 L108.60,419.35 L108.85,418.51 M109.45,416.51 L109.75,415.51 L110.05,414.51 L110.30,413.68 M110.90,411.68 L111.20,410.69 L111.50,409.70 L111.75,408.88 M112.35,406.92 L112.65,405.95 L112.95,404.98 L113.20,404.19 M113.85,402.14 L114.15,401.21 L114.45,400.29 L114.75,399.38 M115.45,397.31 L115.75,396.44 L116.05,395.58 L116.35,394.74 L116.40,394.60 M117.15,392.55 L117.45,391.74 L117.75,390.95 L118.05,390.18 L118.25,389.66 M119.05,387.65 L119.35,386.92 L119.65,386.19 L119.95,385.47 L120.20,384.87 M121.05,382.90 L121.35,382.22 L121.65,381.55 L121.95,380.89 L122.25,380.23 L122.30,380.12 M123.25,378.10 L123.55,377.48 L123.85,376.86 L124.15,376.25 L124.45,375.65 L124.60,375.36 M125.65,373.32 L125.95,372.75 L126.25,372.19 L126.55,371.64 L126.85,371.09 L127.15,370.55 M128.30,368.52 L128.60,368.01 L128.90,367.50 L129.20,366.99 L129.50,366.50 L129.80,366.00 L130.00,365.68 M131.20,363.76 L131.50,363.29 L131.80,362.82 L132.10,362.36 L132.40,361.90 L132.70,361.44 L133.00,360.99 L133.05,360.91 M134.40,358.90 L134.70,358.46 L135.00,358.02 L135.30,357.58 L135.60,357.15 L135.90,356.71 L136.20,356.27 L136.30,356.13 M137.70,354.10 L138.00,353.67 L138.30,353.23 L138.60,352.79 L138.90,352.36 L139.20,351.92 L139.50,351.48 L139.60,351.33 M140.95,349.33 L141.25,348.89 L141.55,348.44 L141.85,348.00 L142.15,347.56 L142.45,347.13 L142.75,346.70 L142.90,346.49 M144.35,344.50 L144.65,344.11 L144.95,343.73 L145.25,343.36 L145.55,343.00 L145.85,342.64 L146.15,342.30 L146.45,341.96 L146.70,341.69 M148.60,339.77 L148.90,339.50 L149.20,339.22 L149.50,338.96 L149.80,338.70 L150.10,338.45 L150.40,338.21 L150.70,337.97 L151.00,337.73 L151.30,337.50 L151.45,337.39 M153.40,336.02 L153.70,335.83 L154.00,335.63 L154.30,335.45 L154.60,335.26 L154.90,335.08 L155.20,334.90 L155.50,334.72 L155.80,334.55 L156.10,334.38 L156.25,334.29 M158.20,333.23 L158.50,333.08 L158.80,332.92 L159.10,332.77 L159.40,332.63 L159.70,332.48 L160.00,332.34 L160.30,332.20 L160.60,332.06 L160.90,331.92 L161.05,331.85 M163.00,331.01 L163.30,330.89 L163.60,330.77 L163.90,330.66 L164.20,330.54 L164.50,330.43 L164.80,330.32 L165.10,330.21 L165.40,330.10 L165.70,330.00 L165.85,329.95 M167.80,329.32 L168.10,329.23 L168.40,329.14 L168.70,329.06 L169.00,328.97 L169.30,328.89 L169.60,328.81 L169.90,328.73 L170.20,328.66 L170.50,328.58 L170.65,328.54 M172.60,328.11 L172.90,328.05 L173.20,327.99 L173.50,327.94 L173.80,327.88 L174.10,327.83 L174.40,327.78 L174.70,327.73 L175.00,327.68 L175.30,327.63 L175.45,327.61 M177.40,327.36 L177.70,327.32 L178.00,327.29 L178.30,327.26 L178.60,327.23 L178.90,327.21 L179.20,327.18 L179.50,327.16 L179.80,327.14 L180.10,327.12 L180.25,327.11 M182.20,327.02 L182.50,327.01 L182.80,327.00 L183.10,327.00 L183.40,327.00 L183.70,326.99 L184.00,326.99 L184.30,326.99 L184.60,327.00 L184.90,327.00 L185.05,327.00 M187.00,327.06 L187.30,327.08 L187.60,327.09 L187.90,327.11 L188.20,327.13 L188.50,327.15 L188.80,327.17 L189.10,327.20 L189.40,327.22 L189.70,327.24 L189.85,327.26 M191.80,327.46 L192.10,327.49 L192.40,327.53 L192.70,327.57 L193.00,327.61 L193.30,327.65 L193.60,327.69 L193.90,327.73 L194.20,327.77 L194.50,327.82 L194.65,327.84 M196.60,328.16 L196.90,328.22 L197.20,328.27 L197.50,328.33 L197.80,328.38 L198.10,328.44 L198.40,328.50 L198.70,328.56 L199.00,328.62 L199.30,328.68 L199.45,328.72 M201.40,329.15 L201.70,329.22 L202.00,329.29 L202.30,329.36 L202.60,329.43 L202.90,329.51 L203.20,329.58 L203.50,329.66 L203.80,329.73 L204.10,329.81 L204.25,329.85 M206.20,330.37 L206.50,330.46 L206.80,330.54 L207.10,330.63 L207.40,330.71 L207.70,330.80 L208.00,330.89 L208.30,330.98 L208.60,331.07 L208.90,331.16 L209.05,331.20 M211.00,331.81 L211.30,331.90 L211.60,332.00 L211.90,332.10 L212.20,332.20 L212.50,332.29 L212.80,332.39 L213.10,332.49 L213.40,332.59 L213.70,332.69 L213.85,332.75 M215.80,333.42 L216.10,333.52 L216.40,333.63 L216.70,333.74 L217.00,333.84 L217.30,333.95 L217.60,334.06 L217.90,334.17 L218.20,334.28 L218.50,334.38 L218.65,334.44 M220.60,335.16 L220.90,335.28 L221.20,335.39 L221.50,335.50 L221.80,335.62 L222.10,335.73 L222.40,335.85 L222.70,335.96 L223.00,336.08 L223.30,336.19 L223.45,336.25 M225.40,337.01 L225.70,337.13 L226.00,337.25 L226.30,337.37 L226.60,337.49 L226.90,337.61 L227.20,337.73 L227.50,337.85 L227.80,337.97 L228.10,338.09 L228.25,338.15 M230.20,338.93 L230.50,339.05 L230.80,339.17 L231.10,339.29 L231.40,339.42 L231.70,339.54 L232.00,339.66 L232.30,339.78 L232.60,339.90 L232.90,340.03 L233.05,340.09 M235.00,340.88 L235.30,341.01 L235.60,341.13 L235.90,341.25 L236.20,341.38 L236.50,341.50 L236.80,341.62 L237.10,341.75 L237.40,341.87 L237.70,341.99 L237.85,342.05 M239.80,342.86 L240.10,342.99 L240.40,343.11 L240.70,343.24 L241.00,343.36 L241.30,343.48 L241.60,343.61 L241.90,343.74 L242.20,343.86 L242.50,343.99 L242.65,344.05 M244.60,344.87 L244.90,344.99 L245.20,345.12 L245.50,345.25 L245.80,345.37 L246.10,345.50 L246.40,345.63 L246.70,345.75 L247.00,345.88 L247.30,346.01 L247.45,346.07 M249.40,346.91 L249.70,347.03 L250.00,347.16 L250.30,347.29 L250.60,347.42 L250.90,347.55 L251.20,347.68 L251.50,347.81 L251.80,347.94 L252.10,348.07 L252.25,348.13 M254.20,348.98 L254.50,349.11 L254.80,349.24 L255.10,349.37 L255.40,349.50 L255.70,349.64 L256.00,349.77 L256.30,349.90 L256.60,350.03 L256.90,350.16 L257.05,350.23 M259.00,351.09 L259.30,351.23 L259.60,351.36 L259.90,351.50 L260.20,351.63 L260.50,351.76 L260.80,351.90 L261.10,352.03 L261.40,352.17 L261.70,352.30 L261.85,352.37 M263.80,353.25 L264.10,353.39 L264.40,353.53 L264.70,353.66 L265.00,353.80 L265.30,353.94 L265.60,354.07 L265.90,354.21 L266.20,354.35 L266.50,354.49 L266.65,354.56 M268.60,355.46 L268.90,355.60 L269.20,355.74 L269.50,355.88 L269.80,356.02 L270.10,356.16 L270.40,356.30 L270.70,356.44 L271.00,356.58 L271.30,356.72 L271.45,356.79 M273.40,357.72 L273.70,357.86 L274.00,358.00 L274.30,358.15 L274.60,358.29 L274.90,358.43 L275.20,358.58 L275.50,358.72 L275.80,358.87 L276.10,359.01 L276.25,359.09 M278.20,360.03 L278.50,360.18 L278.80,360.33 L279.10,360.47 L279.40,360.62 L279.70,360.77 L280.00,360.92 L280.30,361.06 L280.60,361.21 L280.90,361.36 L281.05,361.43 M283.00,362.41 L283.30,362.56 L283.60,362.71 L283.90,362.86 L284.20,363.01 L284.50,363.16 L284.80,363.31 L285.10,363.46 L285.40,363.61 L285.70,363.76 L285.85,363.84 M287.80,364.82 L288.10,364.97 L288.40,365.12 L288.70,365.27 L289.00,365.42 L289.30,365.58 L289.60,365.73 L289.90,365.88 L290.20,366.03 L290.50,366.18 L290.65,366.26 M292.60,367.24 L292.90,367.39 L293.20,367.54 L293.50,367.69 L293.80,367.84 L294.10,367.99 L294.40,368.14 L294.70,368.29 L295.00,368.44 L295.30,368.59 L295.45,368.66 M297.40,369.63 L297.70,369.78 L298.00,369.92 L298.30,370.07 L298.60,370.22 L298.90,370.37 L299.20,370.51 L299.50,370.66 L299.80,370.80 L300.10,370.95 L300.25,371.02 M302.20,371.96 L302.50,372.10 L302.80,372.24 L303.10,372.39 L303.40,372.53 L303.70,372.67 L304.00,372.81 L304.30,372.95 L304.60,373.09 L304.90,373.23 L305.05,373.30 M307.00,374.19 L307.30,374.33 L307.60,374.46 L307.90,374.60 L308.20,374.73 L308.50,374.87 L308.80,375.00 L309.10,375.13 L309.40,375.26 L309.70,375.39 L309.85,375.46 M311.80,376.30 L312.10,376.42 L312.40,376.55 L312.70,376.67 L313.00,376.80 L313.30,376.92 L313.60,377.05 L313.90,377.17 L314.20,377.29 L314.50,377.41 L314.65,377.47 M316.60,378.24 L316.90,378.35 L317.20,378.47 L317.50,378.58 L317.80,378.69 L318.10,378.81 L318.40,378.92 L318.70,379.03 L319.00,379.14 L319.30,379.25 L319.45,379.30 M321.40,379.98 L321.70,380.08 L322.00,380.18 L322.30,380.28 L322.60,380.38 L322.90,380.48 L323.20,380.58 L323.50,380.68 L323.80,380.78 L324.10,380.87 L324.25,380.92 M326.20,381.56 L326.50,381.66 L326.80,381.76 L327.10,381.87 L327.40,381.97 L327.70,382.07 L328.00,382.18 L328.30,382.28 L328.60,382.39 L328.90,382.50 L329.05,382.56 M331.00,383.32 L331.30,383.44 L331.60,383.56 L331.90,383.69 L332.20,383.82 L332.50,383.95 L332.80,384.08 L333.10,384.21 L333.40,384.34 L333.70,384.47 L333.85,384.54 M335.80,385.41 L336.10,385.54 L336.40,385.67 L336.70,385.81 L337.00,385.94 L337.30,386.08 L337.60,386.21 L337.90,386.35 L338.20,386.48 L338.50,386.62 L338.65,386.68 M340.60,387.56 L340.90,387.69 L341.20,387.83 L341.50,387.96 L341.80,388.10 L342.10,388.23 L342.40,388.37 L342.70,388.50 L343.00,388.64 L343.30,388.77 L343.45,388.84 M345.40,389.71 L345.70,389.85 L346.00,389.98 L346.30,390.11 L346.60,390.25 L346.90,390.38 L347.20,390.52 L347.50,390.65 L347.80,390.79 L348.10,390.92 L348.25,390.99 M350.20,391.86 L350.50,391.99 L350.80,392.12 L351.10,392.26 L351.40,392.39 L351.70,392.52 L352.00,392.65 L352.30,392.79 L352.60,392.92 L352.90,393.05 L353.05,393.12 M355.00,393.98 L355.30,394.11 L355.60,394.24 L355.90,394.37 L356.20,394.50 L356.50,394.64 L356.80,394.77 L357.10,394.90 L357.40,395.03 L357.70,395.16 L357.85,395.22 M359.80,396.07 L360.10,396.20 L360.40,396.33 L360.70,396.46 L361.00,396.59 L361.30,396.72 L361.60,396.84 L361.90,396.97 L362.20,397.10 L362.50,397.23 L362.65,397.29 M364.60,398.12 L364.90,398.25 L365.20,398.37 L365.50,398.50 L365.80,398.62 L366.10,398.75 L366.40,398.87 L366.70,399.00 L367.00,399.12 L367.30,399.25 L367.45,399.31 M369.40,400.11 L369.70,400.24 L370.00,400.36 L370.30,400.48 L370.60,400.60 L370.90,400.72 L371.20,400.85 L371.50,400.97 L371.80,401.09 L372.10,401.21 L372.25,401.27 M374.20,402.04 L374.50,402.16 L374.80,402.28 L375.10,402.40 L375.40,402.52 L375.70,402.63 L376.00,402.75 L376.30,402.87 L376.60,402.98 L376.90,403.10 L377.05,403.16 M379.00,403.90 L379.30,404.01 L379.60,404.13 L379.90,404.24 L380.20,404.35 L380.50,404.46 L380.80,404.57 L381.10,404.69 L381.40,404.80 L381.70,404.91 L381.85,404.96 M383.80,405.67 L384.10,405.78 L384.40,405.88 L384.70,405.99 L385.00,406.10 L385.30,406.20 L385.60,406.31 L385.90,406.41 L386.20,406.52 L386.50,406.62 L386.65,406.67 M388.60,407.34 L388.90,407.45 L389.20,407.55 L389.50,407.65 L389.80,407.75 L390.10,407.85 L390.40,407.95 L390.70,408.05 L391.00,408.15 L391.30,408.25 L391.45,408.30 M393.40,408.93 L393.70,409.03 L394.00,409.13 L394.30,409.23 L394.60,409.32 L394.90,409.42 L395.20,409.51 L395.50,409.61 L395.80,409.71 L396.10,409.80 L396.25,409.85 M398.20,410.47 L398.50,410.56 L398.80,410.66 L399.10,410.75 L399.40,410.84 L399.70,410.94 L400.00,411.03 L400.30,411.13 L400.60,411.22 L400.90,411.31 L401.05,411.36 M403.00,411.97 L403.30,412.06 L403.60,412.15 L403.90,412.25 L404.20,412.34 L404.50,412.43 L404.80,412.53 L405.10,412.62 L405.40,412.71 L405.70,412.81 L405.85,412.85 M407.80,413.46 L408.10,413.55 L408.40,413.65 L408.70,413.74 L409.00,413.83 L409.30,413.93 L409.60,414.02 L409.90,414.12 L410.20,414.21 L410.50,414.30 L410.65,414.35 M412.60,414.97 L412.90,415.06 L413.20,415.16 L413.50,415.25 L413.80,415.35 L414.10,415.45 L414.40,415.54 L414.70,415.64 L415.00,415.74 L415.30,415.83 L415.45,415.88 M417.40,416.52 L417.70,416.62 L418.00,416.72 L418.30,416.82 L418.60,416.91 L418.90,417.01 L419.20,417.12 L419.50,417.22 L419.80,417.32 L420.10,417.42 L420.25,417.47 M422.20,418.14 L422.50,418.24 L422.80,418.34 L423.10,418.45 L423.40,418.55 L423.70,418.66 L424.00,418.76 L424.30,418.87 L424.60,418.98 L424.90,419.08 L425.05,419.14 M427.00,419.84 L427.30,419.96 L427.60,420.07 L427.90,420.18 L428.20,420.29 L428.50,420.40 L428.80,420.51 L429.10,420.63 L429.40,420.74 L429.70,420.86 L429.85,420.91 M431.80,421.67 L432.10,421.79 L432.40,421.91 L432.70,422.03 L433.00,422.15 L433.30,422.27 L433.60,422.39 L433.90,422.51 L434.20,422.64 L434.50,422.76" stroke="#ff00ff" stroke-width="1.55"/>
</g>
<path d="M346.9,278.15 H380.7" stroke="#000000" stroke-width="1.5" fill="none"/>
<path d="M346.9,296 H380.7" stroke="#ff0000" stroke-width="1.5" fill="none" stroke-dasharray="6,4.6"/>
<path d="M346.9,313.75 H380.7" stroke="#00ff00" stroke-width="1.8" fill="none" stroke-dasharray="1.9,4.4"/>
<path d="M346.9,331.15 H380.7" stroke="#0000ff" stroke-width="1.5" fill="none" stroke-dasharray="6.4,2.6,1.5,2.6"/>
<path d="M346.9,349.1 H380.7" stroke="#00ffff" stroke-width="1.5" fill="none" stroke-dasharray="5.4,2.6,1.3,2.6,1.3,3.0"/>
<path d="M346.9,366.65 H380.7" stroke="#ff00ff" stroke-width="1.5" fill="none" stroke-dasharray="2.9,1.9"/>
<g font-family="Liberation Sans, sans-serif" fill="#000" stroke="#000" stroke-width="0.3" style="filter:grayscale(1)" text-rendering="geometricPrecision">
<text x="38.20" y="543.5" font-size="11.8" text-anchor="middle">0.0</text>
<text x="104.08" y="543.5" font-size="11.8" text-anchor="middle">0.5</text>
<text x="169.97" y="543.5" font-size="11.8" text-anchor="middle">1.0</text>
<text x="235.85" y="543.5" font-size="11.8" text-anchor="middle">1.5</text>
<text x="301.73" y="543.5" font-size="11.8" text-anchor="middle">2.0</text>
<text x="367.62" y="543.5" font-size="11.8" text-anchor="middle">2.5</text>
<text x="433.50" y="543.5" font-size="11.8" text-anchor="middle">3.0</text>
<text x="32.1" y="532.40" font-size="11.8" text-anchor="end">0.0</text>
<text x="32.1" y="484.15" font-size="11.8" text-anchor="end">0.1</text>
<text x="32.1" y="435.90" font-size="11.8" text-anchor="end">0.2</text>
<text x="32.1" y="387.65" font-size="11.8" text-anchor="end">0.3</text>
<text x="32.1" y="339.40" font-size="11.8" text-anchor="end">0.4</text>
<text x="32.1" y="291.15" font-size="11.8" text-anchor="end">0.5</text>
<text x="32.1" y="242.90" font-size="11.8" text-anchor="end">0.6</text>
<text x="-0.1" y="265.45" font-size="16.5">C</text>
<text x="400.4" y="556.2" font-size="16.2" text-anchor="middle">T</text>
<text x="347.7" y="265.6" font-size="14.55">n = 0.75</text>
<text x="384.4" y="283.3" font-size="14.45">U = 0</text>
<text x="384.4" y="300.8" font-size="14.45">U = 1</text>
<text x="384.4" y="318.3" font-size="14.45">U = 2</text>
<text x="384.4" y="335.9" font-size="14.45">U = 3</text>
<text x="384.4" y="353.4" font-size="14.45">U = 4</text>
<text x="384.4" y="370.9" font-size="14.45">U = 5</text>
</g>
</svg>
</body></html>
